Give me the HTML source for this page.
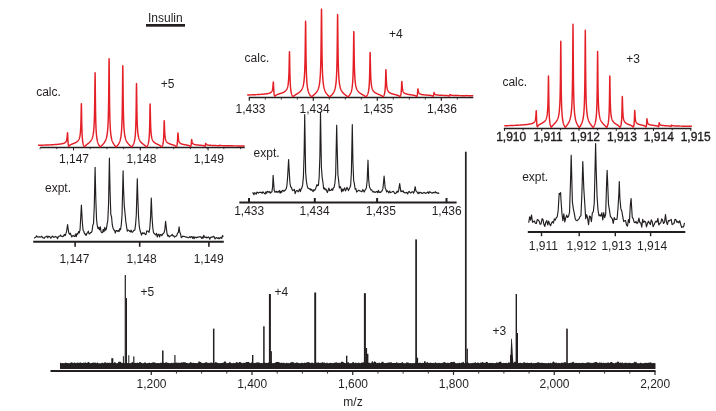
<!DOCTYPE html>
<html><head><meta charset="utf-8"><title>Insulin mass spectrum</title>
<style>
html,body{margin:0;padding:0;background:#fff;}
svg{display:block;will-change:transform;}
text{font-family:"Liberation Sans",sans-serif;font-size:12px;fill:#231f20;}
</style></head><body>
<svg width="716" height="411" viewBox="0 0 716 411">
<rect width="716" height="411" fill="#fff"/>
<text x="148" y="21.6" text-anchor="start" >Insulin</text>
<rect x="146" y="24" width="39" height="2.7" fill="#231f20"/>
<line x1="40.2" y1="147.5" x2="244.7" y2="147.5" stroke="#231f20" stroke-width="1.4" />
<line x1="73.5" y1="147.4" x2="73.5" y2="150.4" stroke="#231f20" stroke-width="1" />
<line x1="140.3" y1="147.4" x2="140.3" y2="150.4" stroke="#231f20" stroke-width="1" />
<line x1="208.1" y1="147.4" x2="208.1" y2="150.4" stroke="#231f20" stroke-width="1" />
<line x1="40.1" y1="147.4" x2="40.1" y2="149.2" stroke="#231f20" stroke-width="0.8" />
<line x1="56.8" y1="147.4" x2="56.8" y2="149.2" stroke="#231f20" stroke-width="0.8" />
<line x1="73.5" y1="147.4" x2="73.5" y2="149.2" stroke="#231f20" stroke-width="0.8" />
<line x1="90.2" y1="147.4" x2="90.2" y2="149.2" stroke="#231f20" stroke-width="0.8" />
<line x1="106.9" y1="147.4" x2="106.9" y2="149.2" stroke="#231f20" stroke-width="0.8" />
<line x1="123.6" y1="147.4" x2="123.6" y2="149.2" stroke="#231f20" stroke-width="0.8" />
<line x1="140.3" y1="147.4" x2="140.3" y2="149.2" stroke="#231f20" stroke-width="0.8" />
<line x1="157.0" y1="147.4" x2="157.0" y2="149.2" stroke="#231f20" stroke-width="0.8" />
<line x1="173.7" y1="147.4" x2="173.7" y2="149.2" stroke="#231f20" stroke-width="0.8" />
<line x1="190.4" y1="147.4" x2="190.4" y2="149.2" stroke="#231f20" stroke-width="0.8" />
<line x1="207.1" y1="147.4" x2="207.1" y2="149.2" stroke="#231f20" stroke-width="0.8" />
<line x1="223.8" y1="147.4" x2="223.8" y2="149.2" stroke="#231f20" stroke-width="0.8" />
<line x1="240.5" y1="147.4" x2="240.5" y2="149.2" stroke="#231f20" stroke-width="0.8" />
<path d="M38.10,145.32 L38.25,145.31 L38.40,145.31 L38.55,145.30 L38.70,145.30 L38.85,145.29 L39.00,145.29 L39.15,145.28 L39.30,145.28 L39.45,145.28 L39.60,145.27 L39.75,145.27 L39.90,145.26 L40.05,145.26 L40.20,145.25 L40.35,145.25 L40.50,145.24 L40.65,145.24 L40.80,145.23 L40.95,145.23 L41.10,145.22 L41.25,145.22 L41.40,145.21 L41.55,145.21 L41.70,145.20 L41.85,145.20 L42.00,145.19 L42.15,145.19 L42.30,145.18 L42.45,145.18 L42.60,145.17 L42.75,145.17 L42.90,145.16 L43.05,145.16 L43.20,145.15 L43.35,145.15 L43.50,145.14 L43.65,145.14 L43.80,145.13 L43.95,145.12 L44.10,145.12 L44.25,145.11 L44.40,145.11 L44.55,145.10 L44.70,145.10 L44.85,145.09 L45.00,145.09 L45.15,145.08 L45.30,145.07 L45.45,145.07 L45.60,145.06 L45.75,145.06 L45.90,145.05 L46.05,145.04 L46.20,145.04 L46.35,145.03 L46.50,145.02 L46.65,145.02 L46.80,145.01 L46.95,145.01 L47.10,145.00 L47.25,144.99 L47.40,144.99 L47.55,144.98 L47.70,144.97 L47.85,144.97 L48.00,144.96 L48.15,144.95 L48.30,144.95 L48.45,144.94 L48.60,144.93 L48.75,144.92 L48.90,144.92 L49.05,144.91 L49.20,144.90 L49.35,144.90 L49.50,144.89 L49.65,144.88 L49.80,144.87 L49.95,144.87 L50.10,144.86 L50.25,144.85 L50.40,144.84 L50.55,144.84 L50.70,144.83 L50.85,144.82 L51.00,144.81 L51.15,144.80 L51.30,144.79 L51.45,144.79 L51.60,144.78 L51.75,144.77 L51.90,144.76 L52.05,144.75 L52.20,144.74 L52.35,144.73 L52.50,144.73 L52.65,144.72 L52.80,144.71 L52.95,144.70 L53.10,144.69 L53.25,144.68 L53.40,144.67 L53.55,144.66 L53.70,144.65 L53.85,144.64 L54.00,144.63 L54.15,144.62 L54.30,144.61 L54.45,144.60 L54.60,144.59 L54.75,144.58 L54.90,144.57 L55.05,144.56 L55.20,144.55 L55.35,144.53 L55.50,144.52 L55.65,144.51 L55.80,144.50 L55.95,144.49 L56.10,144.48 L56.25,144.46 L56.40,144.45 L56.55,144.44 L56.70,144.43 L56.85,144.41 L57.00,144.40 L57.15,144.39 L57.30,144.37 L57.45,144.36 L57.60,144.35 L57.75,144.33 L57.90,144.32 L58.05,144.30 L58.20,144.29 L58.35,144.27 L58.50,144.26 L58.65,144.24 L58.80,144.22 L58.95,144.21 L59.10,144.19 L59.25,144.17 L59.40,144.15 L59.55,144.14 L59.70,144.12 L59.85,144.10 L60.00,144.08 L60.15,144.06 L60.30,144.04 L60.45,144.02 L60.60,144.00 L60.75,143.97 L60.90,143.95 L61.05,143.93 L61.20,143.90 L61.35,143.88 L61.50,143.85 L61.65,143.82 L61.80,143.80 L61.95,143.77 L62.10,143.74 L62.25,143.71 L62.40,143.68 L62.55,143.64 L62.70,143.61 L62.85,143.57 L63.00,143.53 L63.15,143.49 L63.30,143.45 L63.45,143.41 L63.60,143.36 L63.75,143.31 L63.90,143.26 L64.05,143.20 L64.20,143.14 L64.35,143.07 L64.50,143.00 L64.65,142.93 L64.80,142.85 L64.95,142.76 L65.10,142.66 L65.25,142.55 L65.40,142.42 L65.55,142.29 L65.70,142.13 L65.85,141.95 L66.00,141.74 L66.15,141.49 L66.30,141.19 L66.45,140.83 L66.60,140.37 L66.75,139.79 L66.90,139.01 L67.05,137.94 L67.20,136.45 L67.35,134.46 L67.50,132.69 L67.60,132.90 L67.65,133.66 L67.80,137.34 L67.95,140.64 L68.10,142.84 L68.25,144.29 L68.40,145.25 L68.55,145.87 L68.70,146.22 L68.85,146.30 L69.00,146.20 L69.15,146.03 L69.30,145.85 L69.45,145.68 L69.60,145.52 L69.75,145.38 L69.90,145.25 L70.05,145.13 L70.20,145.02 L70.35,144.92 L70.50,144.83 L70.65,144.74 L70.80,144.66 L70.95,144.58 L71.10,144.50 L71.25,144.43 L71.40,144.36 L71.55,144.29 L71.70,144.23 L71.85,144.17 L72.00,144.10 L72.15,144.04 L72.30,143.98 L72.45,143.93 L72.60,143.87 L72.75,143.81 L72.90,143.75 L73.05,143.70 L73.20,143.64 L73.35,143.58 L73.50,143.52 L73.65,143.47 L73.80,143.41 L73.95,143.35 L74.10,143.29 L74.25,143.23 L74.40,143.17 L74.55,143.10 L74.70,143.04 L74.85,142.97 L75.00,142.91 L75.15,142.84 L75.30,142.77 L75.45,142.69 L75.60,142.62 L75.75,142.54 L75.90,142.46 L76.05,142.37 L76.20,142.28 L76.35,142.19 L76.50,142.10 L76.65,142.00 L76.80,141.89 L76.95,141.78 L77.10,141.66 L77.25,141.54 L77.40,141.41 L77.55,141.27 L77.70,141.12 L77.85,140.96 L78.00,140.79 L78.15,140.61 L78.30,140.41 L78.45,140.19 L78.60,139.95 L78.75,139.69 L78.90,139.39 L79.05,139.07 L79.20,138.70 L79.35,138.29 L79.50,137.82 L79.65,137.27 L79.80,136.63 L79.95,135.87 L80.10,134.95 L80.25,133.81 L80.40,132.38 L80.55,130.52 L80.70,128.02 L80.85,124.55 L81.00,119.56 L81.15,112.55 L81.30,105.12 L81.40,103.70 L81.45,104.96 L81.60,113.73 L81.75,122.62 L81.90,128.86 L82.05,133.08 L82.20,136.03 L82.35,138.17 L82.50,139.80 L82.65,141.07 L82.80,142.09 L82.95,142.93 L83.10,143.63 L83.25,144.22 L83.40,144.73 L83.55,145.17 L83.70,145.56 L83.85,145.90 L84.00,146.19 L84.15,146.43 L84.30,146.60 L84.45,146.66 L84.60,146.60 L84.75,146.48 L84.90,146.33 L85.05,146.17 L85.20,146.01 L85.35,145.86 L85.50,145.71 L85.65,145.56 L85.80,145.42 L85.95,145.29 L86.10,145.16 L86.25,145.03 L86.40,144.90 L86.55,144.78 L86.70,144.66 L86.85,144.54 L87.00,144.42 L87.15,144.30 L87.30,144.18 L87.45,144.07 L87.60,143.95 L87.75,143.83 L87.90,143.72 L88.05,143.60 L88.20,143.48 L88.35,143.36 L88.50,143.24 L88.65,143.12 L88.80,142.99 L88.95,142.87 L89.10,142.74 L89.25,142.60 L89.40,142.47 L89.55,142.32 L89.70,142.18 L89.85,142.03 L90.00,141.87 L90.15,141.71 L90.30,141.54 L90.45,141.36 L90.60,141.17 L90.75,140.97 L90.90,140.77 L91.05,140.55 L91.20,140.31 L91.35,140.07 L91.50,139.80 L91.65,139.52 L91.80,139.21 L91.95,138.88 L92.10,138.52 L92.25,138.12 L92.40,137.69 L92.55,137.21 L92.70,136.68 L92.85,136.08 L93.00,135.40 L93.15,134.63 L93.30,133.74 L93.45,132.70 L93.60,131.47 L93.75,129.99 L93.90,128.17 L94.05,125.89 L94.20,122.95 L94.35,119.05 L94.50,113.65 L94.65,105.91 L94.80,94.71 L94.95,80.50 L95.10,72.80 L95.10,72.80 L95.25,82.75 L95.40,98.20 L95.55,109.96 L95.70,117.97 L95.85,123.52 L96.00,127.52 L96.15,130.51 L96.30,132.83 L96.45,134.67 L96.60,136.18 L96.75,137.43 L96.90,138.49 L97.05,139.39 L97.20,140.18 L97.35,140.86 L97.50,141.47 L97.65,142.02 L97.80,142.51 L97.95,142.96 L98.10,143.36 L98.25,143.73 L98.40,144.08 L98.55,144.40 L98.70,144.69 L98.85,144.97 L99.00,145.23 L99.15,145.47 L99.30,145.70 L99.45,145.92 L99.60,146.13 L99.75,146.32 L99.90,146.49 L100.05,146.64 L100.20,146.74 L100.35,146.76 L100.50,146.70 L100.65,146.59 L100.80,146.45 L100.95,146.31 L101.10,146.16 L101.25,146.01 L101.40,145.86 L101.55,145.71 L101.70,145.55 L101.85,145.40 L102.00,145.25 L102.15,145.10 L102.30,144.94 L102.45,144.79 L102.60,144.63 L102.75,144.47 L102.90,144.31 L103.05,144.15 L103.20,143.98 L103.35,143.81 L103.50,143.63 L103.65,143.45 L103.80,143.26 L103.95,143.07 L104.10,142.87 L104.25,142.66 L104.40,142.45 L104.55,142.22 L104.70,141.99 L104.85,141.74 L105.00,141.48 L105.15,141.20 L105.30,140.91 L105.45,140.59 L105.60,140.26 L105.75,139.90 L105.90,139.51 L106.05,139.09 L106.20,138.63 L106.35,138.13 L106.50,137.57 L106.65,136.96 L106.80,136.27 L106.95,135.49 L107.10,134.61 L107.25,133.60 L107.40,132.42 L107.55,131.03 L107.70,129.37 L107.85,127.35 L108.00,124.83 L108.15,121.61 L108.30,117.38 L108.45,111.59 L108.60,103.37 L108.75,91.38 L108.90,74.81 L109.05,60.04 L109.10,58.80 L109.20,64.23 L109.35,81.82 L109.50,97.22 L109.65,107.90 L109.80,115.24 L109.95,120.47 L110.10,124.34 L110.25,127.31 L110.40,129.66 L110.55,131.56 L110.70,133.12 L110.85,134.44 L111.00,135.57 L111.15,136.54 L111.30,137.38 L111.45,138.13 L111.60,138.80 L111.75,139.40 L111.90,139.94 L112.05,140.43 L112.20,140.88 L112.35,141.29 L112.50,141.67 L112.65,142.03 L112.80,142.36 L112.95,142.67 L113.10,142.97 L113.25,143.24 L113.40,143.50 L113.55,143.75 L113.70,143.99 L113.85,144.22 L114.00,144.44 L114.15,144.65 L114.30,144.85 L114.45,145.05 L114.60,145.24 L114.75,145.43 L114.90,145.61 L115.05,145.78 L115.20,145.95 L115.35,146.12 L115.50,146.28 L115.65,146.44 L115.80,146.58 L115.95,146.70 L116.10,146.78 L116.25,146.77 L116.40,146.69 L116.55,146.56 L116.70,146.42 L116.85,146.26 L117.00,146.09 L117.15,145.92 L117.30,145.74 L117.45,145.56 L117.60,145.37 L117.75,145.17 L117.90,144.97 L118.05,144.76 L118.20,144.55 L118.35,144.32 L118.50,144.08 L118.65,143.83 L118.80,143.57 L118.95,143.30 L119.10,143.00 L119.25,142.69 L119.40,142.36 L119.55,142.00 L119.70,141.61 L119.85,141.19 L120.00,140.73 L120.15,140.23 L120.30,139.67 L120.45,139.06 L120.60,138.36 L120.75,137.57 L120.90,136.68 L121.05,135.64 L121.20,134.42 L121.35,132.97 L121.50,131.22 L121.65,129.05 L121.80,126.31 L121.95,122.74 L122.10,117.92 L122.25,111.15 L122.40,101.30 L122.55,87.09 L122.70,70.84 L122.80,65.80 L122.85,66.91 L123.00,80.46 L123.15,95.70 L123.30,106.72 L123.45,114.29 L123.60,119.62 L123.75,123.52 L123.90,126.48 L124.05,128.81 L124.20,130.67 L124.35,132.20 L124.50,133.48 L124.65,134.57 L124.80,135.51 L124.95,136.32 L125.10,137.04 L125.25,137.67 L125.40,138.24 L125.55,138.76 L125.70,139.22 L125.85,139.65 L126.00,140.04 L126.15,140.40 L126.30,140.73 L126.45,141.05 L126.60,141.34 L126.75,141.61 L126.90,141.87 L127.05,142.11 L127.20,142.34 L127.35,142.56 L127.50,142.77 L127.65,142.98 L127.80,143.17 L127.95,143.36 L128.10,143.54 L128.25,143.71 L128.40,143.88 L128.55,144.05 L128.70,144.21 L128.85,144.36 L129.00,144.52 L129.15,144.67 L129.30,144.82 L129.45,144.97 L129.60,145.12 L129.75,145.26 L129.90,145.40 L130.05,145.55 L130.20,145.69 L130.35,145.84 L130.50,145.98 L130.65,146.12 L130.80,146.26 L130.95,146.40 L131.10,146.54 L131.25,146.66 L131.40,146.75 L131.55,146.78 L131.70,146.73 L131.85,146.61 L132.00,146.45 L132.15,146.28 L132.30,146.09 L132.45,145.89 L132.60,145.67 L132.75,145.45 L132.90,145.20 L133.05,144.94 L133.20,144.66 L133.35,144.36 L133.50,144.04 L133.65,143.68 L133.80,143.30 L133.95,142.87 L134.10,142.40 L134.25,141.87 L134.40,141.27 L134.55,140.59 L134.70,139.81 L134.85,138.90 L135.00,137.83 L135.15,136.54 L135.30,134.95 L135.45,132.96 L135.60,130.40 L135.75,126.98 L135.90,122.23 L136.05,115.38 L136.20,105.32 L136.35,92.11 L136.50,83.60 L136.50,83.60 L136.65,90.18 L136.80,102.34 L136.95,111.92 L137.10,118.53 L137.25,123.15 L137.40,126.50 L137.55,129.02 L137.70,130.97 L137.85,132.53 L138.00,133.80 L138.15,134.86 L138.30,135.75 L138.45,136.52 L138.60,137.19 L138.75,137.77 L138.90,138.29 L139.05,138.75 L139.20,139.17 L139.35,139.55 L139.50,139.89 L139.65,140.20 L139.80,140.49 L139.95,140.76 L140.10,141.01 L140.25,141.25 L140.40,141.47 L140.55,141.67 L140.70,141.87 L140.85,142.05 L141.00,142.23 L141.15,142.39 L141.30,142.55 L141.45,142.71 L141.60,142.85 L141.75,142.99 L141.90,143.13 L142.05,143.27 L142.20,143.39 L142.35,143.52 L142.50,143.64 L142.65,143.76 L142.80,143.88 L142.95,144.00 L143.10,144.11 L143.25,144.23 L143.40,144.34 L143.55,144.45 L143.70,144.56 L143.85,144.67 L144.00,144.78 L144.15,144.89 L144.30,145.00 L144.45,145.12 L144.60,145.23 L144.75,145.34 L144.90,145.46 L145.05,145.58 L145.20,145.70 L145.35,145.82 L145.50,145.95 L145.65,146.08 L145.80,146.21 L145.95,146.34 L146.10,146.47 L146.25,146.60 L146.40,146.70 L146.55,146.75 L146.70,146.71 L146.85,146.59 L147.00,146.41 L147.15,146.20 L147.30,145.96 L147.45,145.69 L147.60,145.39 L147.75,145.06 L147.90,144.68 L148.05,144.25 L148.20,143.77 L148.35,143.21 L148.50,142.55 L148.65,141.77 L148.80,140.82 L148.95,139.65 L149.10,138.17 L149.25,136.24 L149.40,133.64 L149.55,129.96 L149.70,124.58 L149.85,116.72 L150.00,107.39 L150.10,104.00 L150.15,104.22 L150.30,110.54 L150.45,118.20 L150.60,123.85 L150.75,127.77 L150.90,130.55 L151.05,132.59 L151.20,134.14 L151.35,135.37 L151.50,136.35 L151.65,137.16 L151.80,137.84 L151.95,138.41 L152.10,138.91 L152.25,139.34 L152.40,139.73 L152.55,140.06 L152.70,140.37 L152.85,140.64 L153.00,140.89 L153.15,141.12 L153.30,141.33 L153.45,141.52 L153.60,141.70 L153.75,141.87 L153.90,142.02 L154.05,142.17 L154.20,142.31 L154.35,142.44 L154.50,142.56 L154.65,142.68 L154.80,142.79 L154.95,142.90 L155.10,143.00 L155.25,143.10 L155.40,143.19 L155.55,143.28 L155.70,143.37 L155.85,143.46 L156.00,143.54 L156.15,143.62 L156.30,143.70 L156.45,143.78 L156.60,143.86 L156.75,143.93 L156.90,144.00 L157.05,144.08 L157.20,144.15 L157.35,144.22 L157.50,144.29 L157.65,144.36 L157.80,144.43 L157.95,144.50 L158.10,144.57 L158.25,144.64 L158.40,144.71 L158.55,144.79 L158.70,144.86 L158.85,144.93 L159.00,145.01 L159.15,145.08 L159.30,145.16 L159.45,145.24 L159.60,145.32 L159.75,145.40 L159.90,145.49 L160.05,145.58 L160.20,145.68 L160.35,145.77 L160.50,145.87 L160.65,145.98 L160.80,146.09 L160.95,146.21 L161.10,146.33 L161.25,146.46 L161.40,146.58 L161.55,146.68 L161.70,146.72 L161.85,146.66 L162.00,146.51 L162.15,146.29 L162.30,146.01 L162.45,145.67 L162.60,145.28 L162.75,144.80 L162.90,144.22 L163.05,143.50 L163.20,142.58 L163.35,141.39 L163.50,139.77 L163.65,137.48 L163.80,134.11 L163.95,129.14 L164.10,123.11 L164.20,120.70 L164.25,120.66 L164.40,124.13 L164.55,128.63 L164.70,132.01 L164.85,134.36 L165.00,136.04 L165.15,137.28 L165.30,138.22 L165.45,138.97 L165.60,139.57 L165.75,140.06 L165.90,140.48 L166.05,140.83 L166.20,141.13 L166.35,141.40 L166.50,141.63 L166.65,141.84 L166.80,142.03 L166.95,142.20 L167.10,142.35 L167.25,142.49 L167.40,142.62 L167.55,142.74 L167.70,142.86 L167.85,142.96 L168.00,143.06 L168.15,143.15 L168.30,143.23 L168.45,143.31 L168.60,143.39 L168.75,143.47 L168.90,143.54 L169.05,143.60 L169.20,143.67 L169.35,143.73 L169.50,143.79 L169.65,143.85 L169.80,143.90 L169.95,143.96 L170.10,144.01 L170.25,144.06 L170.40,144.11 L170.55,144.16 L170.70,144.21 L170.85,144.26 L171.00,144.30 L171.15,144.35 L171.30,144.39 L171.45,144.44 L171.60,144.48 L171.75,144.53 L171.90,144.57 L172.05,144.62 L172.20,144.66 L172.35,144.71 L172.50,144.75 L172.65,144.80 L172.80,144.85 L172.95,144.89 L173.10,144.94 L173.25,144.99 L173.40,145.04 L173.55,145.09 L173.70,145.14 L173.85,145.20 L174.00,145.26 L174.15,145.32 L174.30,145.38 L174.45,145.44 L174.60,145.51 L174.75,145.58 L174.90,145.66 L175.05,145.75 L175.20,145.83 L175.35,145.93 L175.50,146.03 L175.65,146.15 L175.80,146.27 L175.95,146.39 L176.10,146.51 L176.25,146.60 L176.40,146.60 L176.55,146.45 L176.70,146.16 L176.85,145.74 L177.00,145.16 L177.15,144.37 L177.30,143.26 L177.45,141.62 L177.60,139.15 L177.75,135.70 L177.90,132.90 L177.90,132.90 L178.05,133.47 L178.20,135.70 L178.35,137.62 L178.50,139.00 L178.65,139.98 L178.80,140.69 L178.95,141.24 L179.10,141.66 L179.25,142.01 L179.40,142.29 L179.55,142.52 L179.70,142.72 L179.85,142.89 L180.00,143.04 L180.15,143.18 L180.30,143.30 L180.45,143.40 L180.60,143.50 L180.75,143.58 L180.90,143.66 L181.05,143.74 L181.20,143.80 L181.35,143.87 L181.50,143.93 L181.65,143.98 L181.80,144.03 L181.95,144.08 L182.10,144.13 L182.25,144.17 L182.40,144.22 L182.55,144.26 L182.70,144.29 L182.85,144.33 L183.00,144.37 L183.15,144.40 L183.30,144.43 L183.45,144.47 L183.60,144.50 L183.75,144.53 L183.90,144.56 L184.05,144.59 L184.20,144.61 L184.35,144.64 L184.50,144.67 L184.65,144.70 L184.80,144.72 L184.95,144.75 L185.10,144.78 L185.25,144.80 L185.40,144.83 L185.55,144.85 L185.70,144.88 L185.85,144.90 L186.00,144.93 L186.15,144.95 L186.30,144.98 L186.45,145.01 L186.60,145.03 L186.75,145.06 L186.90,145.09 L187.05,145.11 L187.20,145.14 L187.35,145.17 L187.50,145.20 L187.65,145.23 L187.80,145.26 L187.95,145.30 L188.10,145.33 L188.25,145.37 L188.40,145.41 L188.55,145.45 L188.70,145.49 L188.85,145.54 L189.00,145.59 L189.15,145.65 L189.30,145.71 L189.45,145.77 L189.60,145.85 L189.75,145.93 L189.90,146.02 L190.05,146.12 L190.20,146.24 L190.35,146.35 L190.50,146.46 L190.65,146.47 L190.80,146.31 L190.95,145.89 L191.10,145.17 L191.25,144.01 L191.40,142.23 L191.55,140.17 L191.60,139.70 L191.70,139.46 L191.85,140.25 L192.00,141.22 L192.15,141.96 L192.30,142.50 L192.45,142.90 L192.60,143.19 L192.75,143.43 L192.90,143.61 L193.05,143.77 L193.20,143.89 L193.35,144.00 L193.50,144.09 L193.65,144.17 L193.80,144.25 L193.95,144.31 L194.10,144.37 L194.25,144.42 L194.40,144.46 L194.55,144.51 L194.70,144.55 L194.85,144.58 L195.00,144.62 L195.15,144.65 L195.30,144.68 L195.45,144.71 L195.60,144.73 L195.75,144.76 L195.90,144.78 L196.05,144.81 L196.20,144.83 L196.35,144.85 L196.50,144.87 L196.65,144.89 L196.80,144.91 L196.95,144.92 L197.10,144.94 L197.25,144.96 L197.40,144.98 L197.55,144.99 L197.70,145.01 L197.85,145.02 L198.00,145.04 L198.15,145.05 L198.30,145.07 L198.45,145.08 L198.60,145.09 L198.75,145.11 L198.90,145.12 L199.05,145.14 L199.20,145.15 L199.35,145.16 L199.50,145.18 L199.65,145.19 L199.80,145.20 L199.95,145.21 L200.10,145.23 L200.25,145.24 L200.40,145.25 L200.55,145.27 L200.70,145.28 L200.85,145.29 L201.00,145.31 L201.15,145.32 L201.30,145.34 L201.45,145.35 L201.60,145.36 L201.75,145.38 L201.90,145.40 L202.05,145.41 L202.20,145.43 L202.35,145.45 L202.50,145.47 L202.65,145.49 L202.80,145.51 L202.95,145.53 L203.10,145.55 L203.25,145.58 L203.40,145.61 L203.55,145.64 L203.70,145.68 L203.85,145.72 L204.00,145.76 L204.15,145.81 L204.30,145.87 L204.45,145.94 L204.60,146.02 L204.75,146.12 L204.90,146.21 L205.05,146.24 L205.20,146.05 L205.35,145.44 L205.50,144.38 L205.60,143.70 L205.65,143.49 L205.80,143.43 L205.95,143.74 L206.10,144.04 L206.25,144.27 L206.40,144.44 L206.55,144.57 L206.70,144.67 L206.85,144.76 L207.00,144.82 L207.15,144.88 L207.30,144.93 L207.45,144.97 L207.60,145.00 L207.75,145.04 L207.90,145.07 L208.05,145.09 L208.20,145.11 L208.35,145.14 L208.50,145.15 L208.65,145.17 L208.80,145.19 L208.95,145.21 L209.10,145.22 L209.25,145.23 L209.40,145.25 L209.55,145.26 L209.70,145.27 L209.85,145.28 L210.00,145.29 L210.15,145.30 L210.30,145.31 L210.45,145.32 L210.60,145.33 L210.75,145.34 L210.90,145.35 L211.05,145.36 L211.20,145.37 L211.35,145.38 L211.50,145.38 L211.65,145.39 L211.80,145.40 L211.95,145.41 L212.10,145.41 L212.25,145.42 L212.40,145.43 L212.55,145.43 L212.70,145.44 L212.85,145.45 L213.00,145.45 L213.15,145.46 L213.30,145.47 L213.45,145.47 L213.60,145.48 L213.75,145.49 L213.90,145.49 L214.05,145.50 L214.20,145.50 L214.35,145.51 L214.50,145.52 L214.65,145.52 L214.80,145.53 L214.95,145.53 L215.10,145.54 L215.25,145.55 L215.40,145.55 L215.55,145.56 L215.70,145.56 L215.85,145.57 L216.00,145.58 L216.15,145.58 L216.30,145.59 L216.45,145.60 L216.60,145.60 L216.75,145.61 L216.90,145.62 L217.05,145.63 L217.20,145.64 L217.35,145.65 L217.50,145.66 L217.65,145.67 L217.80,145.68 L217.95,145.70 L218.10,145.71 L218.25,145.73 L218.40,145.76 L218.55,145.79 L218.70,145.82 L218.85,145.85 L219.00,145.87 L219.15,145.77 L219.30,145.50 L219.30,145.50 L219.45,145.31 L219.60,145.30 L219.75,145.35 L219.90,145.40 L220.05,145.44 L220.20,145.47 L220.35,145.49 L220.50,145.51 L220.65,145.53 L220.80,145.54 L220.95,145.55 L221.10,145.56 L221.25,145.57 L221.40,145.58 L221.55,145.59 L221.70,145.60 L221.85,145.60 L222.00,145.61 L222.15,145.62 L222.30,145.62 L222.45,145.63 L222.60,145.63 L222.75,145.64 L222.90,145.64 L223.05,145.65 L223.20,145.65 L223.35,145.66 L223.50,145.66 L223.65,145.67 L223.80,145.67 L223.95,145.67 L224.10,145.68 L224.25,145.68 L224.40,145.69 L224.55,145.69 L224.70,145.69 L224.85,145.70 L225.00,145.70 L225.15,145.70 L225.30,145.71 L225.45,145.71 L225.60,145.71 L225.75,145.72 L225.90,145.72 L226.05,145.72 L226.20,145.73 L226.35,145.73 L226.50,145.73 L226.65,145.74 L226.80,145.74 L226.95,145.74 L227.10,145.74 L227.25,145.75 L227.40,145.75 L227.55,145.75 L227.70,145.76 L227.85,145.76 L228.00,145.76 L228.15,145.76 L228.30,145.77 L228.45,145.77 L228.60,145.77 L228.75,145.78 L228.90,145.78 L229.05,145.78 L229.20,145.78 L229.35,145.79 L229.50,145.79 L229.65,145.79 L229.80,145.79 L229.95,145.80 L230.10,145.80 L230.25,145.80 L230.40,145.80 L230.55,145.81 L230.70,145.81 L230.85,145.81 L231.00,145.81 L231.15,145.82 L231.30,145.82 L231.45,145.82 L231.60,145.82 L231.75,145.83 L231.90,145.83 L232.05,145.83 L232.20,145.83 L232.35,145.83 L232.50,145.84 L232.65,145.84 L232.80,145.84 L232.95,145.84 L233.00,145.84 L233.10,145.85 L233.25,145.85 L233.40,145.85 L233.55,145.85 L233.70,145.85 L233.85,145.86 L234.00,145.86 L234.15,145.86 L234.30,145.86 L234.45,145.87 L234.60,145.87 L234.75,145.87 L234.90,145.87 L235.05,145.87 L235.20,145.88 L235.35,145.88 L235.50,145.88 L235.65,145.88 L235.80,145.88 L235.95,145.89 L236.10,145.89 L236.25,145.89 L236.40,145.89 L236.55,145.89 L236.70,145.90 L236.85,145.90 L237.00,145.90 L237.15,145.90 L237.30,145.90 L237.45,145.91 L237.60,145.91 L237.75,145.91 L237.90,145.91 L238.05,145.91 L238.20,145.92 L238.35,145.92 L238.50,145.92 L238.65,145.92 L238.80,145.92 L238.95,145.92 L239.10,145.93 L239.25,145.93 L239.40,145.93 L239.55,145.93 L239.70,145.93 L239.85,145.94 L240.00,145.94 L240.15,145.94 L240.30,145.94 L240.45,145.94 L240.60,145.94 L240.75,145.95 L240.90,145.95 L241.05,145.95 L241.20,145.95 L241.35,145.95 L241.50,145.96 L241.65,145.96 L241.80,145.96 L241.95,145.96 L242.10,145.96 L242.25,145.96 L242.40,145.97 L242.55,145.97 L242.70,145.97 L242.85,145.97 L243.00,145.97 L243.15,145.97 L243.30,145.98 L243.45,145.98 L243.60,145.98 L243.75,145.98 L243.90,145.98 L244.05,145.98 L244.20,145.99 L244.35,145.99 L244.50,145.99 L244.65,145.99" fill="none" stroke="#e41f26" stroke-width="1.45" stroke-linejoin="round"/>
<text x="74.0" y="162.6" text-anchor="middle" >1,147</text>
<text x="141.4" y="162.6" text-anchor="middle" >1,148</text>
<text x="208.8" y="162.6" text-anchor="middle" >1,149</text>
<text x="36.2" y="96" text-anchor="start" >calc.</text>
<text x="160.8" y="88" text-anchor="start" >+5</text>
<path d="M34.30,238.45 L35.05,237.47 L35.80,237.23 L36.55,235.82 L37.30,236.96 L38.05,236.91 L38.80,237.10 L39.55,236.70 L40.30,237.13 L41.05,236.81 L41.80,236.21 L42.55,237.79 L43.30,237.81 L44.05,238.34 L44.80,237.20 L45.55,236.85 L46.30,236.70 L47.05,236.06 L47.80,237.79 L48.55,236.42 L49.30,236.29 L50.05,237.01 L50.80,238.17 L51.55,237.34 L52.30,236.12 L53.05,236.54 L53.80,237.39 L54.55,236.93 L55.30,236.41 L56.05,236.89 L56.80,237.26 L57.55,238.70 L58.30,236.48 L59.05,236.25 L59.80,236.12 L60.55,234.98 L61.30,236.29 L62.05,236.36 L62.80,236.75 L63.55,235.89 L64.30,234.42 L65.05,235.66 L65.80,233.94 L66.55,231.65 L67.60,224.60 L68.05,228.22 L68.80,233.00 L69.55,234.31 L70.30,233.19 L71.05,235.01 L71.80,237.01 L72.55,235.73 L73.30,235.51 L74.05,236.21 L74.80,236.60 L75.55,233.98 L76.30,236.55 L77.05,233.50 L77.80,234.12 L78.55,231.64 L79.30,232.93 L80.05,229.61 L80.80,216.04 L81.40,205.00 L82.30,221.75 L83.05,230.22 L83.80,231.24 L84.55,233.81 L85.30,233.93 L86.05,235.55 L86.80,233.46 L87.55,232.89 L88.30,231.12 L89.05,233.90 L89.80,233.71 L90.55,232.64 L91.30,232.51 L92.05,231.15 L92.80,225.30 L93.55,223.33 L94.30,205.51 L95.10,167.30 L95.80,198.49 L96.55,219.45 L97.30,225.91 L98.05,228.69 L98.80,227.23 L99.55,229.86 L100.30,226.88 L101.05,231.64 L101.80,232.76 L102.55,232.51 L103.30,229.23 L104.05,231.78 L104.80,227.30 L105.55,230.25 L106.30,229.20 L107.05,224.63 L107.80,220.49 L108.55,203.95 L109.40,158.00 L110.05,190.69 L110.80,214.33 L111.55,216.73 L112.30,224.97 L113.05,228.19 L113.80,229.88 L114.55,230.12 L115.30,233.03 L116.05,230.58 L116.80,230.69 L117.55,231.35 L118.30,230.48 L119.05,231.58 L119.80,228.65 L120.55,229.78 L121.30,224.50 L122.05,214.79 L123.10,170.80 L123.55,189.10 L124.30,206.41 L125.05,213.47 L125.80,221.41 L126.55,226.55 L127.30,231.12 L128.05,230.10 L128.80,230.30 L129.55,231.23 L130.30,231.92 L131.05,229.97 L131.80,232.16 L132.55,232.22 L133.30,231.19 L134.05,230.20 L134.80,230.16 L135.55,224.97 L136.30,214.68 L137.30,178.70 L137.80,196.64 L138.55,216.95 L139.30,226.67 L140.05,230.55 L140.80,232.73 L141.55,235.05 L142.30,232.88 L143.05,233.70 L143.80,232.79 L144.55,233.32 L145.30,234.56 L146.05,234.44 L146.80,230.81 L147.55,231.10 L148.30,231.22 L149.05,232.36 L149.80,228.04 L150.55,217.38 L151.30,198.00 L152.05,217.40 L152.80,227.72 L153.55,233.00 L154.30,233.29 L155.05,234.41 L155.80,234.92 L156.55,233.39 L157.30,237.01 L158.05,234.72 L158.80,234.09 L159.55,236.96 L160.30,234.50 L161.05,234.52 L161.80,235.72 L162.55,234.21 L163.30,233.51 L164.05,232.64 L164.80,230.02 L165.60,221.40 L166.30,227.61 L167.05,233.71 L167.80,236.08 L168.55,235.28 L169.30,236.90 L170.05,236.33 L170.80,235.67 L171.55,235.25 L172.30,234.48 L173.05,235.88 L173.80,235.93 L174.55,237.07 L175.30,236.38 L176.05,236.27 L176.80,235.46 L177.55,233.18 L178.30,232.52 L179.10,226.90 L179.80,232.25 L180.55,234.16 L181.30,237.59 L182.05,237.08 L182.80,236.19 L183.55,236.41 L184.30,236.43 L185.05,236.65 L185.80,237.06 L186.55,237.02 L187.30,237.23 L188.05,237.74 L188.80,237.43 L189.55,236.76 L190.30,237.59 L191.05,236.58 L191.80,236.61 L192.55,238.28 L193.30,236.67 L194.05,238.68 L194.80,236.93 L195.55,237.24 L196.30,237.90 L197.05,237.09 L197.80,237.37 L198.55,236.92 L199.30,236.76 L200.05,237.04 L200.80,236.70 L201.55,238.34 L202.30,237.03 L203.05,238.37 L203.80,235.22 L204.55,237.16 L205.30,237.57 L206.05,236.96 L206.80,237.96 L207.55,237.62 L208.30,236.96 L209.05,237.48 L209.80,239.20 L210.55,237.35 L211.30,237.39 L212.05,236.85 L212.80,237.27 L213.55,236.24 L214.30,237.03 L215.05,238.94 L215.80,237.94 L216.55,237.64 L217.30,237.97 L218.05,238.53 L218.80,237.60 L219.55,238.67 L220.30,237.95 L221.05,237.30 L221.80,238.42 L222.55,235.48 L223.30,236.77" fill="none" stroke="#231f20" stroke-width="1.15" stroke-linejoin="round"/>
<line x1="33.2" y1="241.8" x2="223.8" y2="241.8" stroke="#231f20" stroke-width="2" />
<line x1="75.1" y1="241.8" x2="75.1" y2="246.8" stroke="#231f20" stroke-width="1.6" />
<line x1="139.7" y1="241.8" x2="139.7" y2="246.8" stroke="#231f20" stroke-width="1.6" />
<line x1="208.9" y1="241.8" x2="208.9" y2="246.8" stroke="#231f20" stroke-width="1.6" />
<text x="74.4" y="262.6" text-anchor="middle" >1,147</text>
<text x="141.6" y="262.6" text-anchor="middle" >1,148</text>
<text x="208.7" y="262.6" text-anchor="middle" >1,149</text>
<text x="45" y="191.5" text-anchor="start" >expt.</text>
<line x1="248.8" y1="97.5" x2="473.3" y2="97.5" stroke="#231f20" stroke-width="1.4" />
<line x1="249.3" y1="97.5" x2="249.3" y2="100.8" stroke="#231f20" stroke-width="1.2" />
<line x1="265.3" y1="97.5" x2="265.3" y2="99.6" stroke="#231f20" stroke-width="0.8" />
<line x1="281.3" y1="97.5" x2="281.3" y2="99.6" stroke="#231f20" stroke-width="0.8" />
<line x1="297.3" y1="97.5" x2="297.3" y2="99.6" stroke="#231f20" stroke-width="0.8" />
<line x1="313.3" y1="97.5" x2="313.3" y2="100.8" stroke="#231f20" stroke-width="1.2" />
<line x1="329.3" y1="97.5" x2="329.3" y2="99.6" stroke="#231f20" stroke-width="0.8" />
<line x1="345.3" y1="97.5" x2="345.3" y2="99.6" stroke="#231f20" stroke-width="0.8" />
<line x1="361.3" y1="97.5" x2="361.3" y2="99.6" stroke="#231f20" stroke-width="0.8" />
<line x1="377.3" y1="97.5" x2="377.3" y2="100.8" stroke="#231f20" stroke-width="1.2" />
<line x1="393.3" y1="97.5" x2="393.3" y2="99.6" stroke="#231f20" stroke-width="0.8" />
<line x1="409.3" y1="97.5" x2="409.3" y2="99.6" stroke="#231f20" stroke-width="0.8" />
<line x1="425.3" y1="97.5" x2="425.3" y2="99.6" stroke="#231f20" stroke-width="0.8" />
<line x1="441.3" y1="97.5" x2="441.3" y2="100.8" stroke="#231f20" stroke-width="1.2" />
<line x1="457.3" y1="97.5" x2="457.3" y2="99.6" stroke="#231f20" stroke-width="0.8" />
<path d="M247.20,95.00 L247.35,94.99 L247.50,94.99 L247.65,94.98 L247.80,94.98 L247.95,94.97 L248.10,94.97 L248.25,94.96 L248.40,94.96 L248.55,94.95 L248.70,94.95 L248.85,94.94 L249.00,94.94 L249.15,94.93 L249.30,94.93 L249.45,94.92 L249.60,94.92 L249.75,94.91 L249.90,94.91 L250.05,94.90 L250.20,94.90 L250.35,94.89 L250.50,94.89 L250.65,94.88 L250.80,94.88 L250.95,94.87 L251.10,94.86 L251.25,94.86 L251.40,94.85 L251.55,94.85 L251.70,94.84 L251.85,94.84 L252.00,94.83 L252.15,94.82 L252.30,94.82 L252.45,94.81 L252.60,94.81 L252.75,94.80 L252.90,94.79 L253.05,94.79 L253.20,94.78 L253.35,94.77 L253.50,94.77 L253.65,94.76 L253.80,94.76 L253.95,94.75 L254.10,94.74 L254.25,94.74 L254.40,94.73 L254.55,94.72 L254.70,94.72 L254.85,94.71 L255.00,94.70 L255.15,94.69 L255.30,94.69 L255.45,94.68 L255.60,94.67 L255.75,94.67 L255.90,94.66 L256.05,94.65 L256.20,94.64 L256.35,94.64 L256.50,94.63 L256.65,94.62 L256.80,94.61 L256.95,94.61 L257.10,94.60 L257.25,94.59 L257.40,94.58 L257.55,94.57 L257.70,94.57 L257.85,94.56 L258.00,94.55 L258.15,94.54 L258.30,94.53 L258.45,94.52 L258.60,94.51 L258.75,94.51 L258.90,94.50 L259.05,94.49 L259.20,94.48 L259.35,94.47 L259.50,94.46 L259.65,94.45 L259.80,94.44 L259.95,94.43 L260.10,94.42 L260.25,94.41 L260.40,94.40 L260.55,94.39 L260.70,94.38 L260.85,94.37 L261.00,94.36 L261.15,94.35 L261.30,94.34 L261.45,94.33 L261.60,94.31 L261.75,94.30 L261.90,94.29 L262.05,94.28 L262.20,94.27 L262.35,94.26 L262.50,94.24 L262.65,94.23 L262.80,94.22 L262.95,94.20 L263.10,94.19 L263.25,94.18 L263.40,94.16 L263.55,94.15 L263.70,94.14 L263.85,94.12 L264.00,94.11 L264.15,94.09 L264.30,94.08 L264.45,94.06 L264.60,94.04 L264.75,94.03 L264.90,94.01 L265.05,93.99 L265.20,93.98 L265.35,93.96 L265.50,93.94 L265.65,93.92 L265.80,93.90 L265.95,93.88 L266.10,93.86 L266.25,93.84 L266.40,93.82 L266.55,93.80 L266.70,93.77 L266.85,93.75 L267.00,93.73 L267.15,93.70 L267.30,93.68 L267.45,93.65 L267.60,93.62 L267.75,93.59 L267.90,93.56 L268.05,93.53 L268.20,93.50 L268.35,93.46 L268.50,93.43 L268.65,93.39 L268.80,93.35 L268.95,93.31 L269.10,93.26 L269.25,93.22 L269.40,93.17 L269.55,93.12 L269.70,93.06 L269.85,93.00 L270.00,92.94 L270.15,92.87 L270.30,92.80 L270.45,92.72 L270.60,92.63 L270.75,92.53 L270.90,92.42 L271.05,92.31 L271.20,92.17 L271.35,92.02 L271.50,91.85 L271.65,91.66 L271.80,91.43 L271.95,91.16 L272.10,90.84 L272.25,90.44 L272.40,89.94 L272.55,89.31 L272.70,88.47 L272.85,87.33 L273.00,85.77 L273.15,83.75 L273.30,82.03 L273.40,82.20 L273.45,82.88 L273.60,86.29 L273.75,89.55 L273.90,91.84 L274.05,93.39 L274.20,94.45 L274.35,95.21 L274.50,95.74 L274.65,96.07 L274.80,96.21 L274.95,96.17 L275.10,96.05 L275.25,95.90 L275.40,95.75 L275.55,95.61 L275.70,95.48 L275.85,95.36 L276.00,95.25 L276.15,95.14 L276.30,95.05 L276.45,94.96 L276.60,94.88 L276.75,94.80 L276.90,94.72 L277.05,94.65 L277.20,94.59 L277.35,94.52 L277.50,94.46 L277.65,94.40 L277.80,94.35 L277.95,94.29 L278.10,94.24 L278.25,94.19 L278.40,94.14 L278.55,94.09 L278.70,94.04 L278.85,93.99 L279.00,93.94 L279.15,93.89 L279.30,93.85 L279.45,93.80 L279.60,93.75 L279.75,93.71 L279.90,93.66 L280.05,93.61 L280.20,93.57 L280.35,93.52 L280.50,93.47 L280.65,93.42 L280.80,93.37 L280.95,93.33 L281.10,93.28 L281.25,93.23 L281.40,93.18 L281.55,93.12 L281.70,93.07 L281.85,93.02 L282.00,92.96 L282.15,92.91 L282.30,92.85 L282.45,92.79 L282.60,92.73 L282.75,92.67 L282.90,92.60 L283.05,92.54 L283.20,92.47 L283.35,92.40 L283.50,92.33 L283.65,92.25 L283.80,92.17 L283.95,92.09 L284.10,92.00 L284.25,91.91 L284.40,91.82 L284.55,91.72 L284.70,91.62 L284.85,91.51 L285.00,91.40 L285.15,91.28 L285.30,91.15 L285.45,91.01 L285.60,90.87 L285.75,90.71 L285.90,90.55 L286.05,90.37 L286.20,90.17 L286.35,89.96 L286.50,89.73 L286.65,89.48 L286.80,89.20 L286.95,88.90 L287.10,88.56 L287.25,88.17 L287.40,87.74 L287.55,87.24 L287.70,86.67 L287.85,86.00 L288.00,85.22 L288.15,84.27 L288.30,83.11 L288.45,81.66 L288.60,79.80 L288.75,77.35 L288.90,74.00 L289.05,69.32 L289.20,62.79 L289.35,55.10 L289.50,51.70 L289.50,51.70 L289.65,57.86 L289.80,67.15 L289.95,74.45 L290.10,79.52 L290.25,83.08 L290.40,85.66 L290.55,87.60 L290.70,89.10 L290.85,90.30 L291.00,91.28 L291.15,92.09 L291.30,92.78 L291.45,93.37 L291.60,93.88 L291.75,94.32 L291.90,94.72 L292.05,95.07 L292.20,95.38 L292.35,95.66 L292.50,95.91 L292.65,96.13 L292.80,96.32 L292.95,96.46 L293.10,96.53 L293.25,96.51 L293.40,96.42 L293.55,96.30 L293.70,96.18 L293.85,96.05 L294.00,95.92 L294.15,95.80 L294.30,95.68 L294.45,95.56 L294.60,95.45 L294.75,95.34 L294.90,95.23 L295.05,95.12 L295.20,95.02 L295.35,94.92 L295.50,94.82 L295.65,94.72 L295.80,94.62 L295.95,94.52 L296.10,94.43 L296.25,94.34 L296.40,94.24 L296.55,94.15 L296.70,94.06 L296.85,93.96 L297.00,93.87 L297.15,93.78 L297.30,93.68 L297.45,93.59 L297.60,93.49 L297.75,93.40 L297.90,93.30 L298.05,93.20 L298.20,93.10 L298.35,93.00 L298.50,92.90 L298.65,92.79 L298.80,92.68 L298.95,92.57 L299.10,92.46 L299.25,92.34 L299.40,92.22 L299.55,92.10 L299.70,91.97 L299.85,91.84 L300.00,91.70 L300.15,91.56 L300.30,91.41 L300.45,91.26 L300.60,91.09 L300.75,90.92 L300.90,90.75 L301.05,90.56 L301.20,90.36 L301.35,90.15 L301.50,89.93 L301.65,89.69 L301.80,89.44 L301.95,89.17 L302.10,88.87 L302.25,88.56 L302.40,88.22 L302.55,87.85 L302.70,87.44 L302.85,86.99 L303.00,86.50 L303.15,85.95 L303.30,85.33 L303.45,84.64 L303.60,83.85 L303.75,82.94 L303.90,81.88 L304.05,80.63 L304.20,79.13 L304.35,77.31 L304.50,75.05 L304.65,72.17 L304.80,68.40 L304.95,63.30 L305.10,56.17 L305.25,46.05 L305.40,32.78 L305.55,21.96 L305.60,21.30 L305.70,25.89 L305.85,40.29 L306.00,53.40 L306.15,62.76 L306.30,69.31 L306.45,74.01 L306.60,77.52 L306.75,80.21 L306.90,82.34 L307.05,84.07 L307.20,85.49 L307.35,86.69 L307.50,87.71 L307.65,88.59 L307.80,89.36 L307.95,90.04 L308.10,90.64 L308.25,91.18 L308.40,91.67 L308.55,92.11 L308.70,92.51 L308.85,92.88 L309.00,93.23 L309.15,93.54 L309.30,93.84 L309.45,94.11 L309.60,94.37 L309.75,94.61 L309.90,94.84 L310.05,95.06 L310.20,95.27 L310.35,95.46 L310.50,95.65 L310.65,95.82 L310.80,95.99 L310.95,96.15 L311.10,96.30 L311.25,96.43 L311.40,96.54 L311.55,96.60 L311.70,96.59 L311.85,96.53 L312.00,96.43 L312.15,96.31 L312.30,96.19 L312.45,96.07 L312.60,95.94 L312.75,95.82 L312.90,95.69 L313.05,95.57 L313.20,95.44 L313.35,95.31 L313.50,95.19 L313.65,95.06 L313.80,94.93 L313.95,94.80 L314.10,94.67 L314.25,94.54 L314.40,94.40 L314.55,94.27 L314.70,94.13 L314.85,93.99 L315.00,93.85 L315.15,93.70 L315.30,93.55 L315.45,93.40 L315.60,93.24 L315.75,93.07 L315.90,92.91 L316.05,92.73 L316.20,92.55 L316.35,92.36 L316.50,92.17 L316.65,91.96 L316.80,91.75 L316.95,91.52 L317.10,91.29 L317.25,91.04 L317.40,90.77 L317.55,90.49 L317.70,90.19 L317.85,89.87 L318.00,89.53 L318.15,89.15 L318.30,88.75 L318.45,88.32 L318.60,87.84 L318.75,87.32 L318.90,86.74 L319.05,86.10 L319.20,85.38 L319.35,84.56 L319.50,83.64 L319.65,82.58 L319.80,81.34 L319.95,79.88 L320.10,78.13 L320.25,76.01 L320.40,73.37 L320.55,70.00 L320.70,65.59 L320.85,59.61 L321.00,51.23 L321.15,39.29 L321.30,23.49 L321.45,10.18 L321.50,9.10 L321.60,13.83 L321.75,29.93 L321.90,44.85 L322.05,55.58 L322.20,63.10 L322.35,68.52 L322.50,72.55 L322.65,75.66 L322.80,78.12 L322.95,80.12 L323.10,81.76 L323.25,83.15 L323.40,84.33 L323.55,85.34 L323.70,86.23 L323.85,87.01 L324.00,87.71 L324.15,88.33 L324.30,88.89 L324.45,89.40 L324.60,89.86 L324.75,90.29 L324.90,90.68 L325.05,91.04 L325.20,91.38 L325.35,91.69 L325.50,91.99 L325.65,92.27 L325.80,92.53 L325.95,92.77 L326.10,93.01 L326.25,93.23 L326.40,93.44 L326.55,93.65 L326.70,93.84 L326.85,94.03 L327.00,94.21 L327.15,94.38 L327.30,94.55 L327.45,94.72 L327.60,94.87 L327.75,95.03 L327.90,95.18 L328.05,95.32 L328.20,95.47 L328.35,95.61 L328.50,95.75 L328.65,95.88 L328.80,96.01 L328.95,96.14 L329.10,96.26 L329.25,96.38 L329.40,96.49 L329.55,96.58 L329.70,96.63 L329.85,96.62 L330.00,96.56 L330.15,96.46 L330.30,96.35 L330.45,96.23 L330.60,96.10 L330.75,95.97 L330.90,95.83 L331.05,95.69 L331.20,95.55 L331.35,95.41 L331.50,95.26 L331.65,95.11 L331.80,94.95 L331.95,94.79 L332.10,94.62 L332.25,94.44 L332.40,94.26 L332.55,94.08 L332.70,93.88 L332.85,93.68 L333.00,93.47 L333.15,93.24 L333.30,93.01 L333.45,92.76 L333.60,92.50 L333.75,92.22 L333.90,91.92 L334.05,91.60 L334.20,91.25 L334.35,90.88 L334.50,90.48 L334.65,90.04 L334.80,89.56 L334.95,89.04 L335.10,88.45 L335.25,87.80 L335.40,87.06 L335.55,86.23 L335.70,85.27 L335.85,84.16 L336.00,82.86 L336.15,81.32 L336.30,79.45 L336.45,77.14 L336.60,74.22 L336.75,70.43 L336.90,65.35 L337.05,58.29 L337.20,48.22 L337.35,34.21 L337.50,19.08 L337.60,14.60 L337.65,15.59 L337.80,28.01 L337.95,42.80 L338.10,53.98 L338.25,61.83 L338.40,67.43 L338.55,71.57 L338.70,74.72 L338.85,77.20 L339.00,79.19 L339.15,80.82 L339.30,82.19 L339.45,83.35 L339.60,84.35 L339.75,85.22 L339.90,85.98 L340.05,86.65 L340.20,87.26 L340.35,87.80 L340.50,88.29 L340.65,88.74 L340.80,89.14 L340.95,89.52 L341.10,89.87 L341.25,90.19 L341.40,90.49 L341.55,90.77 L341.70,91.03 L341.85,91.28 L342.00,91.51 L342.15,91.73 L342.30,91.94 L342.45,92.14 L342.60,92.34 L342.75,92.52 L342.90,92.69 L343.05,92.86 L343.20,93.02 L343.35,93.18 L343.50,93.33 L343.65,93.47 L343.80,93.62 L343.95,93.75 L344.10,93.89 L344.25,94.02 L344.40,94.15 L344.55,94.28 L344.70,94.40 L344.85,94.52 L345.00,94.64 L345.15,94.76 L345.30,94.88 L345.45,94.99 L345.60,95.11 L345.75,95.22 L345.90,95.33 L346.05,95.45 L346.20,95.56 L346.35,95.67 L346.50,95.78 L346.65,95.90 L346.80,96.01 L346.95,96.12 L347.10,96.23 L347.25,96.34 L347.40,96.45 L347.55,96.54 L347.70,96.61 L347.85,96.64 L348.00,96.60 L348.15,96.52 L348.30,96.40 L348.45,96.28 L348.60,96.14 L348.75,95.99 L348.90,95.83 L349.05,95.67 L349.20,95.50 L349.35,95.32 L349.50,95.13 L349.65,94.93 L349.80,94.71 L349.95,94.49 L350.10,94.25 L350.25,93.99 L350.40,93.71 L350.55,93.41 L350.70,93.09 L350.85,92.74 L351.00,92.35 L351.15,91.93 L351.30,91.46 L351.45,90.94 L351.60,90.35 L351.75,89.68 L351.90,88.92 L352.05,88.03 L352.20,86.99 L352.35,85.76 L352.50,84.27 L352.65,82.42 L352.80,80.09 L352.95,77.06 L353.10,73.00 L353.25,67.35 L353.40,59.26 L353.55,47.95 L353.70,35.54 L353.80,31.60 L353.85,32.19 L354.00,41.56 L354.15,53.05 L354.30,61.80 L354.45,67.97 L354.60,72.39 L354.75,75.65 L354.90,78.14 L355.05,80.10 L355.20,81.67 L355.35,82.97 L355.50,84.05 L355.65,84.97 L355.80,85.76 L355.95,86.45 L356.10,87.05 L356.25,87.59 L356.40,88.07 L356.55,88.50 L356.70,88.89 L356.85,89.24 L357.00,89.56 L357.15,89.86 L357.30,90.14 L357.45,90.39 L357.60,90.63 L357.75,90.86 L357.90,91.06 L358.05,91.26 L358.20,91.45 L358.35,91.62 L358.50,91.79 L358.65,91.94 L358.80,92.10 L358.95,92.24 L359.10,92.38 L359.25,92.51 L359.40,92.64 L359.55,92.76 L359.70,92.88 L359.85,92.99 L360.00,93.10 L360.15,93.21 L360.30,93.32 L360.45,93.42 L360.60,93.52 L360.75,93.62 L360.90,93.71 L361.05,93.81 L361.20,93.90 L361.35,93.99 L361.50,94.08 L361.65,94.17 L361.80,94.26 L361.95,94.34 L362.10,94.43 L362.25,94.52 L362.40,94.60 L362.55,94.69 L362.70,94.77 L362.85,94.86 L363.00,94.94 L363.15,95.03 L363.30,95.12 L363.45,95.21 L363.60,95.29 L363.75,95.38 L363.90,95.47 L364.05,95.57 L364.20,95.66 L364.35,95.75 L364.50,95.85 L364.65,95.95 L364.80,96.05 L364.95,96.15 L365.10,96.26 L365.25,96.36 L365.40,96.46 L365.55,96.55 L365.70,96.61 L365.85,96.61 L366.00,96.55 L366.15,96.45 L366.30,96.31 L366.45,96.15 L366.60,95.98 L366.75,95.78 L366.90,95.58 L367.05,95.35 L367.20,95.10 L367.35,94.83 L367.50,94.52 L367.65,94.19 L367.80,93.81 L367.95,93.39 L368.10,92.91 L368.25,92.36 L368.40,91.72 L368.55,90.97 L368.70,90.06 L368.85,88.97 L369.00,87.60 L369.15,85.86 L369.30,83.57 L369.45,80.45 L369.60,76.06 L369.75,69.75 L369.90,61.18 L370.05,53.39 L370.10,52.40 L370.20,53.95 L370.35,61.25 L370.50,68.39 L370.65,73.62 L370.80,77.33 L370.95,80.02 L371.10,82.03 L371.25,83.58 L371.40,84.82 L371.55,85.82 L371.70,86.65 L371.85,87.35 L372.00,87.94 L372.15,88.46 L372.30,88.91 L372.45,89.30 L372.60,89.66 L372.75,89.97 L372.90,90.26 L373.05,90.52 L373.20,90.75 L373.35,90.97 L373.50,91.17 L373.65,91.35 L373.80,91.53 L373.95,91.69 L374.10,91.84 L374.25,91.98 L374.40,92.11 L374.55,92.24 L374.70,92.36 L374.85,92.47 L375.00,92.58 L375.15,92.68 L375.30,92.78 L375.45,92.88 L375.60,92.97 L375.75,93.06 L375.90,93.14 L376.05,93.22 L376.20,93.30 L376.35,93.38 L376.50,93.45 L376.65,93.53 L376.80,93.60 L376.95,93.67 L377.10,93.74 L377.25,93.80 L377.40,93.87 L377.55,93.94 L377.70,94.00 L377.85,94.06 L378.00,94.13 L378.15,94.19 L378.30,94.25 L378.45,94.31 L378.60,94.37 L378.75,94.43 L378.90,94.49 L379.05,94.55 L379.20,94.61 L379.35,94.68 L379.50,94.74 L379.65,94.80 L379.80,94.86 L379.95,94.93 L380.10,94.99 L380.25,95.06 L380.40,95.13 L380.55,95.20 L380.70,95.27 L380.85,95.34 L381.00,95.41 L381.15,95.49 L381.30,95.57 L381.45,95.65 L381.60,95.74 L381.75,95.83 L381.90,95.92 L382.05,96.02 L382.20,96.12 L382.35,96.22 L382.50,96.33 L382.65,96.43 L382.80,96.52 L382.95,96.57 L383.10,96.54 L383.25,96.44 L383.40,96.28 L383.55,96.08 L383.70,95.85 L383.85,95.57 L384.00,95.25 L384.15,94.88 L384.30,94.44 L384.45,93.92 L384.60,93.29 L384.75,92.50 L384.90,91.51 L385.05,90.22 L385.20,88.49 L385.35,86.06 L385.50,82.56 L385.65,77.57 L385.80,71.87 L385.90,69.70 L385.95,69.67 L386.10,72.93 L386.25,77.39 L386.40,80.87 L386.55,83.36 L386.70,85.16 L386.85,86.49 L387.00,87.52 L387.15,88.32 L387.30,88.98 L387.45,89.51 L387.60,89.96 L387.75,90.35 L387.90,90.68 L388.05,90.97 L388.20,91.22 L388.35,91.44 L388.50,91.65 L388.65,91.83 L388.80,91.99 L388.95,92.14 L389.10,92.28 L389.25,92.41 L389.40,92.53 L389.55,92.64 L389.70,92.74 L389.85,92.84 L390.00,92.92 L390.15,93.01 L390.30,93.09 L390.45,93.17 L390.60,93.24 L390.75,93.31 L390.90,93.37 L391.05,93.44 L391.20,93.50 L391.35,93.55 L391.50,93.61 L391.65,93.66 L391.80,93.72 L391.95,93.77 L392.10,93.81 L392.25,93.86 L392.40,93.91 L392.55,93.95 L392.70,94.00 L392.85,94.04 L393.00,94.08 L393.15,94.12 L393.30,94.17 L393.45,94.21 L393.60,94.25 L393.75,94.28 L393.90,94.32 L394.05,94.36 L394.20,94.40 L394.35,94.44 L394.50,94.47 L394.65,94.51 L394.80,94.55 L394.95,94.59 L395.10,94.62 L395.25,94.66 L395.40,94.70 L395.55,94.74 L395.70,94.78 L395.85,94.82 L396.00,94.86 L396.15,94.90 L396.30,94.94 L396.45,94.98 L396.60,95.02 L396.75,95.06 L396.90,95.11 L397.05,95.16 L397.20,95.20 L397.35,95.25 L397.50,95.30 L397.65,95.36 L397.80,95.41 L397.95,95.47 L398.10,95.53 L398.25,95.60 L398.40,95.67 L398.55,95.74 L398.70,95.82 L398.85,95.90 L399.00,95.99 L399.15,96.08 L399.30,96.19 L399.45,96.29 L399.60,96.39 L399.75,96.47 L399.90,96.50 L400.05,96.43 L400.20,96.25 L400.35,96.00 L400.50,95.66 L400.65,95.23 L400.80,94.67 L400.95,93.94 L401.10,92.94 L401.25,91.55 L401.40,89.51 L401.55,86.57 L401.70,83.09 L401.80,81.60 L401.85,81.44 L402.00,82.95 L402.15,85.28 L402.30,87.15 L402.45,88.51 L402.60,89.50 L402.75,90.24 L402.90,90.80 L403.05,91.25 L403.20,91.62 L403.35,91.92 L403.50,92.17 L403.65,92.38 L403.80,92.57 L403.95,92.73 L404.10,92.87 L404.25,93.00 L404.40,93.12 L404.55,93.22 L404.70,93.31 L404.85,93.40 L405.00,93.48 L405.15,93.55 L405.30,93.62 L405.45,93.68 L405.60,93.74 L405.75,93.79 L405.90,93.84 L406.05,93.89 L406.20,93.94 L406.35,93.98 L406.50,94.02 L406.65,94.06 L406.80,94.10 L406.95,94.14 L407.10,94.17 L407.25,94.21 L407.40,94.24 L407.55,94.27 L407.70,94.30 L407.85,94.33 L408.00,94.36 L408.15,94.39 L408.30,94.41 L408.45,94.44 L408.60,94.47 L408.75,94.49 L408.90,94.52 L409.05,94.54 L409.20,94.56 L409.35,94.59 L409.50,94.61 L409.65,94.63 L409.80,94.66 L409.95,94.68 L410.10,94.70 L410.25,94.72 L410.40,94.74 L410.55,94.76 L410.70,94.79 L410.85,94.81 L411.00,94.83 L411.15,94.85 L411.30,94.87 L411.45,94.89 L411.60,94.91 L411.75,94.94 L411.90,94.96 L412.05,94.98 L412.20,95.00 L412.35,95.03 L412.50,95.05 L412.65,95.07 L412.80,95.10 L412.95,95.12 L413.10,95.15 L413.25,95.17 L413.40,95.20 L413.55,95.23 L413.70,95.26 L413.85,95.29 L414.00,95.32 L414.15,95.35 L414.30,95.39 L414.45,95.42 L414.60,95.46 L414.75,95.50 L414.90,95.55 L415.05,95.60 L415.20,95.65 L415.35,95.70 L415.50,95.77 L415.65,95.83 L415.80,95.91 L415.95,95.99 L416.10,96.08 L416.25,96.18 L416.40,96.28 L416.55,96.36 L416.70,96.39 L416.85,96.30 L417.00,96.04 L417.15,95.62 L417.30,94.98 L417.45,94.02 L417.60,92.57 L417.75,90.59 L417.90,88.90 L417.90,88.90 L418.05,88.90 L418.20,89.91 L418.35,90.90 L418.50,91.65 L418.65,92.19 L418.80,92.60 L418.95,92.91 L419.10,93.16 L419.25,93.36 L419.40,93.52 L419.55,93.66 L419.70,93.77 L419.85,93.87 L420.00,93.96 L420.15,94.04 L420.30,94.11 L420.45,94.17 L420.60,94.23 L420.75,94.28 L420.90,94.32 L421.05,94.37 L421.20,94.41 L421.35,94.44 L421.50,94.48 L421.65,94.51 L421.80,94.54 L421.95,94.57 L422.10,94.59 L422.25,94.62 L422.40,94.64 L422.55,94.67 L422.70,94.69 L422.85,94.71 L423.00,94.73 L423.15,94.75 L423.30,94.77 L423.45,94.79 L423.60,94.80 L423.75,94.82 L423.90,94.84 L424.05,94.85 L424.20,94.87 L424.35,94.88 L424.50,94.90 L424.65,94.91 L424.80,94.93 L424.95,94.94 L425.10,94.95 L425.25,94.97 L425.40,94.98 L425.55,94.99 L425.70,95.01 L425.85,95.02 L426.00,95.03 L426.15,95.04 L426.30,95.06 L426.45,95.07 L426.60,95.08 L426.75,95.09 L426.90,95.10 L427.05,95.12 L427.20,95.13 L427.35,95.14 L427.50,95.15 L427.65,95.16 L427.80,95.18 L427.95,95.19 L428.10,95.20 L428.25,95.21 L428.40,95.22 L428.55,95.24 L428.70,95.25 L428.85,95.26 L429.00,95.28 L429.15,95.29 L429.30,95.30 L429.45,95.32 L429.60,95.33 L429.75,95.35 L429.90,95.36 L430.05,95.38 L430.20,95.40 L430.35,95.42 L430.50,95.43 L430.65,95.45 L430.80,95.48 L430.95,95.50 L431.10,95.52 L431.25,95.55 L431.40,95.58 L431.55,95.61 L431.70,95.64 L431.85,95.68 L432.00,95.72 L432.15,95.76 L432.30,95.82 L432.45,95.88 L432.60,95.94 L432.75,96.02 L432.90,96.11 L433.05,96.19 L433.20,96.24 L433.35,96.19 L433.50,95.90 L433.65,95.30 L433.80,94.30 L433.95,93.10 L434.00,92.80 L434.10,92.53 L434.25,92.77 L434.40,93.20 L434.55,93.57 L434.70,93.85 L434.85,94.06 L435.00,94.22 L435.15,94.35 L435.30,94.45 L435.45,94.54 L435.60,94.61 L435.75,94.67 L435.90,94.72 L436.05,94.77 L436.20,94.81 L436.35,94.84 L436.50,94.87 L436.65,94.90 L436.80,94.93 L436.95,94.95 L437.10,94.97 L437.25,95.00 L437.40,95.01 L437.55,95.03 L437.70,95.05 L437.85,95.07 L438.00,95.08 L438.15,95.09 L438.30,95.11 L438.45,95.12 L438.60,95.13 L438.75,95.14 L438.90,95.16 L439.05,95.17 L439.20,95.18 L439.35,95.19 L439.50,95.20 L439.65,95.21 L439.80,95.22 L439.95,95.22 L440.10,95.23 L440.25,95.24 L440.40,95.25 L440.55,95.26 L440.70,95.27 L440.85,95.27 L441.00,95.28 L441.15,95.29 L441.30,95.30 L441.45,95.30 L441.60,95.31 L441.75,95.32 L441.90,95.32 L442.05,95.33 L442.20,95.34 L442.35,95.35 L442.50,95.35 L442.65,95.36 L442.80,95.37 L442.95,95.37 L443.10,95.38 L443.25,95.38 L443.40,95.39 L443.55,95.40 L443.70,95.40 L443.85,95.41 L444.00,95.42 L444.15,95.42 L444.30,95.43 L444.45,95.44 L444.60,95.44 L444.75,95.45 L444.90,95.46 L445.05,95.47 L445.20,95.47 L445.35,95.48 L445.50,95.49 L445.65,95.50 L445.80,95.50 L445.95,95.51 L446.10,95.52 L446.25,95.53 L446.40,95.54 L446.55,95.55 L446.70,95.56 L446.85,95.57 L447.00,95.58 L447.15,95.59 L447.30,95.61 L447.45,95.62 L447.60,95.64 L447.75,95.66 L447.90,95.68 L448.05,95.70 L448.20,95.73 L448.35,95.75 L448.50,95.79 L448.65,95.83 L448.80,95.88 L448.95,95.93 L449.10,95.99 L449.25,96.04 L449.40,96.01 L449.55,95.77 L449.70,95.21 L449.80,94.80 L449.85,94.65 L450.00,94.52 L450.15,94.63 L450.30,94.77 L450.45,94.89 L450.60,94.98 L450.75,95.05 L450.90,95.11 L451.05,95.15 L451.20,95.19 L451.35,95.22 L451.50,95.25 L451.65,95.27 L451.80,95.29 L451.95,95.31 L452.10,95.33 L452.25,95.34 L452.40,95.36 L452.55,95.37 L452.70,95.38 L452.85,95.39 L453.00,95.40 L453.15,95.41 L453.30,95.42 L453.45,95.43 L453.60,95.43 L453.75,95.44 L453.90,95.45 L454.05,95.45 L454.20,95.46 L454.35,95.47 L454.50,95.47 L454.65,95.48 L454.80,95.48 L454.95,95.49 L455.10,95.49 L455.25,95.50 L455.40,95.50 L455.55,95.51 L455.70,95.51 L455.85,95.52 L456.00,95.52 L456.15,95.53 L456.30,95.53 L456.45,95.54 L456.60,95.54 L456.75,95.54 L456.90,95.55 L457.05,95.55 L457.20,95.55 L457.35,95.56 L457.50,95.56 L457.65,95.57 L457.80,95.57 L457.95,95.57 L458.10,95.58 L458.25,95.58 L458.40,95.58 L458.55,95.59 L458.70,95.59 L458.85,95.59 L459.00,95.60 L459.15,95.60 L459.30,95.60 L459.45,95.61 L459.60,95.61 L459.75,95.61 L459.90,95.62 L460.05,95.62 L460.20,95.62 L460.35,95.63 L460.50,95.63 L460.65,95.63 L460.80,95.64 L460.95,95.64 L461.10,95.64 L461.25,95.65 L461.40,95.65 L461.55,95.65 L461.70,95.66 L461.85,95.66 L462.00,95.67 L462.15,95.67 L462.30,95.67 L462.45,95.68 L462.60,95.68 L462.75,95.68 L462.90,95.69 L463.05,95.69 L463.20,95.70 L463.35,95.70 L463.50,95.71 L463.65,95.71 L463.80,95.72 L463.95,95.73 L464.10,95.73 L464.25,95.74 L464.40,95.75 L464.55,95.76 L464.70,95.77 L464.85,95.79 L465.00,95.80 L465.15,95.82 L465.30,95.85 L465.45,95.87 L465.60,95.89 L465.75,95.88 L465.90,95.75 L466.00,95.60 L466.05,95.53 L466.20,95.44 L466.35,95.45 L466.50,95.48 L466.65,95.52 L466.80,95.54 L466.95,95.57 L467.10,95.58 L467.25,95.60 L467.40,95.61 L467.55,95.62 L467.70,95.63 L467.85,95.64 L468.00,95.65 L468.15,95.65 L468.30,95.66 L468.45,95.66 L468.60,95.67 L468.75,95.67 L468.90,95.68 L469.05,95.68 L469.20,95.69 L469.35,95.69 L469.50,95.69 L469.65,95.70 L469.80,95.70 L469.95,95.70 L470.10,95.71 L470.25,95.71 L470.40,95.71 L470.55,95.71 L470.70,95.72 L470.85,95.72 L471.00,95.72 L471.15,95.72 L471.30,95.73 L471.45,95.73 L471.60,95.73 L471.75,95.73 L471.90,95.74 L472.05,95.74 L472.20,95.74 L472.35,95.74 L472.50,95.75 L472.65,95.75 L472.80,95.75 L472.95,95.75 L473.10,95.75 L473.25,95.76" fill="none" stroke="#e41f26" stroke-width="1.45" stroke-linejoin="round"/>
<text x="250.5" y="113" text-anchor="middle" >1,433</text>
<text x="314.6" y="113" text-anchor="middle" >1,434</text>
<text x="378.2" y="113" text-anchor="middle" >1,435</text>
<text x="441.9" y="113" text-anchor="middle" >1,436</text>
<text x="244.6" y="61.8" text-anchor="start" >calc.</text>
<text x="389" y="38.3" text-anchor="start" >+4</text>
<path d="M252.40,193.30 L253.15,192.78 L253.90,194.74 L254.65,192.82 L255.40,192.97 L256.15,194.18 L256.90,192.13 L257.65,192.46 L258.40,193.14 L259.15,192.56 L259.90,192.13 L260.65,192.49 L261.40,192.40 L262.15,193.31 L262.90,191.75 L263.65,192.54 L264.40,193.44 L265.15,194.02 L265.90,191.73 L266.65,193.16 L267.40,191.34 L268.15,191.64 L268.90,192.34 L269.65,191.52 L270.40,193.16 L271.15,192.30 L271.90,191.82 L272.65,186.51 L273.10,175.40 L274.15,189.95 L274.90,192.28 L275.65,192.00 L276.40,191.24 L277.15,192.49 L277.90,191.55 L278.65,192.05 L279.40,190.54 L280.15,193.27 L280.90,191.13 L281.65,192.34 L282.40,190.45 L283.15,190.25 L283.90,191.57 L284.65,190.30 L285.40,190.27 L286.15,188.84 L286.90,185.80 L287.65,176.61 L288.60,159.60 L289.15,169.91 L289.90,182.65 L290.65,186.89 L291.40,187.28 L292.15,189.75 L292.90,190.60 L293.65,189.92 L294.40,189.39 L295.15,193.69 L295.90,191.33 L296.65,190.68 L297.40,190.55 L298.15,191.85 L298.90,190.59 L299.65,189.07 L300.40,191.62 L301.15,188.87 L301.90,187.82 L302.65,184.88 L303.40,176.84 L304.15,152.69 L304.70,114.50 L305.65,172.69 L306.40,181.39 L307.15,185.67 L307.90,188.20 L308.65,188.39 L309.40,189.21 L310.15,188.73 L310.90,190.23 L311.65,189.24 L312.40,190.62 L313.15,191.58 L313.90,189.66 L314.65,190.41 L315.40,189.28 L316.15,187.08 L316.90,184.59 L317.65,185.81 L318.40,185.56 L319.15,177.32 L319.90,155.51 L320.50,112.10 L321.40,167.32 L322.15,177.29 L322.90,181.98 L323.65,188.80 L324.40,187.96 L325.15,189.84 L325.90,188.92 L326.65,190.83 L327.40,192.45 L328.15,190.19 L328.90,188.10 L329.65,190.76 L330.40,190.31 L331.15,190.23 L331.90,188.78 L332.65,190.35 L333.40,187.93 L334.15,187.25 L334.90,183.25 L335.65,174.80 L336.40,138.71 L336.70,125.20 L337.15,146.53 L337.90,174.45 L338.65,180.84 L339.40,187.99 L340.15,186.52 L340.90,187.92 L341.65,191.94 L342.40,189.10 L343.15,190.97 L343.90,189.13 L344.65,187.87 L345.40,190.96 L346.15,189.54 L346.90,187.41 L347.65,188.53 L348.40,190.63 L349.15,188.96 L349.90,187.51 L350.65,185.25 L351.40,172.29 L352.30,124.60 L352.90,161.21 L353.65,180.46 L354.40,183.99 L355.15,189.22 L355.90,188.62 L356.65,192.05 L357.40,191.39 L358.15,190.55 L358.90,190.21 L359.65,190.97 L360.40,191.03 L361.15,191.42 L361.90,191.72 L362.65,189.68 L363.40,190.41 L364.15,192.07 L364.90,190.40 L365.65,189.36 L366.40,187.78 L367.15,181.04 L368.00,160.20 L368.65,179.06 L369.40,186.62 L370.15,188.33 L370.90,189.93 L371.65,189.83 L372.40,191.30 L373.15,192.10 L373.90,191.47 L374.65,192.15 L375.40,192.33 L376.15,191.60 L376.90,191.65 L377.65,192.69 L378.40,190.41 L379.15,192.47 L379.90,192.09 L380.65,192.51 L381.40,191.23 L382.15,190.74 L382.90,188.65 L383.65,181.34 L384.10,176.00 L385.15,187.72 L385.90,189.37 L386.65,192.01 L387.40,190.72 L388.15,191.75 L388.90,192.86 L389.65,191.04 L390.40,192.61 L391.15,192.28 L391.90,191.93 L392.65,191.46 L393.40,191.42 L394.15,192.53 L394.90,193.65 L395.65,193.18 L396.40,192.71 L397.15,191.12 L397.90,192.26 L398.65,190.46 L399.40,185.46 L399.70,183.60 L400.15,186.95 L400.90,191.74 L401.65,190.96 L402.40,191.71 L403.15,190.81 L403.90,192.59 L404.65,192.49 L405.40,192.85 L406.15,192.66 L406.90,192.40 L407.65,193.99 L408.40,192.15 L409.15,191.42 L409.90,192.48 L410.65,192.96 L411.40,192.48 L412.15,191.75 L412.90,191.72 L413.65,193.19 L414.40,190.87 L415.20,186.70 L415.90,190.99 L416.65,191.30 L417.40,192.66 L418.15,193.71 L418.90,192.21 L419.65,193.21 L420.40,192.26 L421.15,192.63 L421.90,193.44 L422.65,193.31 L423.40,192.66 L424.15,192.36 L424.90,192.86 L425.65,193.48 L426.40,192.76 L427.15,192.78 L427.90,191.77 L428.65,193.49 L429.40,191.91 L430.15,191.85 L430.90,192.63 L431.65,192.85 L432.40,193.08 L433.15,192.31 L433.90,192.73 L434.65,192.58 L435.40,191.73 L436.15,192.83 L436.90,192.53 L437.65,193.29 L438.40,192.90 L439.15,193.65" fill="none" stroke="#231f20" stroke-width="1.15" stroke-linejoin="round"/>
<line x1="239.3" y1="202.4" x2="456.6" y2="202.4" stroke="#231f20" stroke-width="2" />
<line x1="249" y1="202.4" x2="249" y2="198.0" stroke="#231f20" stroke-width="2" />
<line x1="314.8" y1="202.4" x2="314.8" y2="198.0" stroke="#231f20" stroke-width="2" />
<line x1="377.1" y1="202.4" x2="377.1" y2="198.0" stroke="#231f20" stroke-width="2" />
<line x1="446.5" y1="202.4" x2="446.5" y2="198.0" stroke="#231f20" stroke-width="2" />
<text x="249.2" y="215.2" text-anchor="middle" >1,433</text>
<text x="314.6" y="215.2" text-anchor="middle" >1,434</text>
<text x="380.8" y="215.2" text-anchor="middle" >1,435</text>
<text x="446.7" y="215.2" text-anchor="middle" >1,436</text>
<text x="253.6" y="157.0" text-anchor="start" >expt.</text>
<line x1="503.8" y1="128.6" x2="691.4" y2="128.6" stroke="#231f20" stroke-width="1.5" />
<line x1="504.5" y1="128.6" x2="504.5" y2="130.9" stroke="#231f20" stroke-width="1" />
<line x1="523.1" y1="128.6" x2="523.1" y2="130.3" stroke="#231f20" stroke-width="1" />
<line x1="541.8" y1="128.6" x2="541.8" y2="130.9" stroke="#231f20" stroke-width="1" />
<line x1="560.4" y1="128.6" x2="560.4" y2="130.3" stroke="#231f20" stroke-width="1" />
<line x1="579.0" y1="128.6" x2="579.0" y2="130.9" stroke="#231f20" stroke-width="1" />
<line x1="597.6" y1="128.6" x2="597.6" y2="130.3" stroke="#231f20" stroke-width="1" />
<line x1="616.3" y1="128.6" x2="616.3" y2="130.9" stroke="#231f20" stroke-width="1" />
<line x1="634.9" y1="128.6" x2="634.9" y2="130.3" stroke="#231f20" stroke-width="1" />
<line x1="653.5" y1="128.6" x2="653.5" y2="130.9" stroke="#231f20" stroke-width="1" />
<line x1="672.2" y1="128.6" x2="672.2" y2="130.3" stroke="#231f20" stroke-width="1" />
<line x1="690.8" y1="128.6" x2="690.8" y2="130.9" stroke="#231f20" stroke-width="1" />
<path d="M504.30,125.78 L504.45,125.77 L504.60,125.77 L504.75,125.76 L504.90,125.76 L505.05,125.75 L505.20,125.75 L505.35,125.74 L505.50,125.74 L505.65,125.73 L505.80,125.73 L505.95,125.72 L506.10,125.72 L506.25,125.71 L506.40,125.71 L506.55,125.70 L506.70,125.70 L506.85,125.69 L507.00,125.69 L507.15,125.68 L507.30,125.68 L507.45,125.67 L507.60,125.67 L507.75,125.66 L507.90,125.66 L508.05,125.65 L508.20,125.65 L508.35,125.64 L508.50,125.64 L508.65,125.63 L508.80,125.62 L508.95,125.62 L509.10,125.61 L509.25,125.61 L509.40,125.60 L509.55,125.60 L509.70,125.59 L509.85,125.58 L510.00,125.58 L510.15,125.57 L510.30,125.57 L510.45,125.56 L510.60,125.56 L510.75,125.55 L510.90,125.54 L511.05,125.54 L511.20,125.53 L511.35,125.53 L511.50,125.52 L511.65,125.51 L511.80,125.51 L511.95,125.50 L512.10,125.49 L512.25,125.49 L512.40,125.48 L512.55,125.48 L512.70,125.47 L512.85,125.46 L513.00,125.46 L513.15,125.45 L513.30,125.44 L513.45,125.44 L513.60,125.43 L513.75,125.42 L513.90,125.41 L514.05,125.41 L514.20,125.40 L514.35,125.39 L514.50,125.39 L514.65,125.38 L514.80,125.37 L514.95,125.37 L515.10,125.36 L515.25,125.35 L515.40,125.34 L515.55,125.34 L515.70,125.33 L515.85,125.32 L516.00,125.31 L516.15,125.31 L516.30,125.30 L516.45,125.29 L516.60,125.28 L516.75,125.27 L516.90,125.27 L517.05,125.26 L517.20,125.25 L517.35,125.24 L517.50,125.23 L517.65,125.22 L517.80,125.22 L517.95,125.21 L518.10,125.20 L518.25,125.19 L518.40,125.18 L518.55,125.17 L518.70,125.16 L518.85,125.15 L519.00,125.15 L519.15,125.14 L519.30,125.13 L519.45,125.12 L519.60,125.11 L519.75,125.10 L519.90,125.09 L520.05,125.08 L520.20,125.07 L520.35,125.06 L520.50,125.05 L520.65,125.04 L520.80,125.03 L520.95,125.02 L521.10,125.01 L521.25,125.00 L521.40,124.99 L521.55,124.98 L521.70,124.97 L521.85,124.95 L522.00,124.94 L522.15,124.93 L522.30,124.92 L522.45,124.91 L522.60,124.90 L522.75,124.89 L522.90,124.87 L523.05,124.86 L523.20,124.85 L523.35,124.84 L523.50,124.82 L523.65,124.81 L523.80,124.80 L523.95,124.79 L524.10,124.77 L524.25,124.76 L524.40,124.74 L524.55,124.73 L524.70,124.72 L524.85,124.70 L525.00,124.69 L525.15,124.67 L525.30,124.66 L525.45,124.64 L525.60,124.63 L525.75,124.61 L525.90,124.60 L526.05,124.58 L526.20,124.57 L526.35,124.55 L526.50,124.53 L526.65,124.51 L526.80,124.50 L526.95,124.48 L527.10,124.46 L527.25,124.44 L527.40,124.42 L527.55,124.41 L527.70,124.39 L527.85,124.37 L528.00,124.35 L528.15,124.32 L528.30,124.30 L528.45,124.28 L528.60,124.26 L528.75,124.24 L528.90,124.21 L529.05,124.19 L529.20,124.17 L529.35,124.14 L529.50,124.11 L529.65,124.09 L529.80,124.06 L529.95,124.03 L530.10,124.00 L530.25,123.97 L530.40,123.94 L530.55,123.91 L530.70,123.88 L530.85,123.84 L531.00,123.81 L531.15,123.77 L531.30,123.73 L531.45,123.69 L531.60,123.65 L531.75,123.61 L531.90,123.56 L532.05,123.51 L532.20,123.46 L532.35,123.41 L532.50,123.35 L532.65,123.29 L532.80,123.23 L532.95,123.16 L533.10,123.09 L533.25,123.01 L533.40,122.92 L533.55,122.83 L533.70,122.73 L533.85,122.62 L534.00,122.49 L534.15,122.36 L534.30,122.20 L534.45,122.02 L534.60,121.82 L534.75,121.58 L534.90,121.29 L535.05,120.95 L535.20,120.53 L535.35,119.99 L535.50,119.29 L535.65,118.33 L535.80,116.99 L535.95,115.03 L536.10,112.38 L536.25,110.61 L536.30,111.00 L536.40,113.56 L536.55,118.49 L536.70,121.96 L536.85,124.10 L537.00,125.45 L537.15,126.29 L537.30,126.69 L537.45,126.71 L537.60,126.52 L537.75,126.28 L537.90,126.05 L538.05,125.83 L538.20,125.64 L538.35,125.47 L538.50,125.31 L538.65,125.17 L538.80,125.04 L538.95,124.92 L539.10,124.80 L539.25,124.70 L539.40,124.60 L539.55,124.50 L539.70,124.41 L539.85,124.32 L540.00,124.23 L540.15,124.15 L540.30,124.07 L540.45,123.99 L540.60,123.91 L540.75,123.83 L540.90,123.75 L541.05,123.68 L541.20,123.60 L541.35,123.52 L541.50,123.44 L541.65,123.37 L541.80,123.29 L541.95,123.21 L542.10,123.13 L542.25,123.04 L542.40,122.96 L542.55,122.87 L542.70,122.78 L542.85,122.69 L543.00,122.60 L543.15,122.50 L543.30,122.40 L543.45,122.30 L543.60,122.19 L543.75,122.08 L543.90,121.96 L544.05,121.83 L544.20,121.70 L544.35,121.57 L544.50,121.42 L544.65,121.27 L544.80,121.10 L544.95,120.93 L545.10,120.74 L545.25,120.54 L545.40,120.32 L545.55,120.08 L545.70,119.82 L545.85,119.53 L546.00,119.21 L546.15,118.86 L546.30,118.46 L546.45,118.02 L546.60,117.50 L546.75,116.91 L546.90,116.22 L547.05,115.39 L547.20,114.39 L547.35,113.16 L547.50,111.60 L547.65,109.56 L547.80,106.79 L547.95,102.87 L548.10,97.07 L548.25,88.42 L548.40,78.26 L548.50,76.00 L548.55,77.77 L548.70,89.80 L548.85,100.89 L549.00,108.18 L549.15,112.93 L549.30,116.19 L549.45,118.54 L549.60,120.31 L549.75,121.69 L549.90,122.79 L550.05,123.70 L550.20,124.45 L550.35,125.09 L550.50,125.64 L550.65,126.11 L550.80,126.52 L550.95,126.85 L551.10,127.09 L551.25,127.19 L551.40,127.11 L551.55,126.94 L551.70,126.73 L551.85,126.52 L552.00,126.32 L552.15,126.12 L552.30,125.93 L552.45,125.75 L552.60,125.57 L552.75,125.39 L552.90,125.23 L553.05,125.06 L553.20,124.90 L553.35,124.74 L553.50,124.59 L553.65,124.43 L553.80,124.28 L553.95,124.13 L554.10,123.98 L554.25,123.83 L554.40,123.67 L554.55,123.52 L554.70,123.36 L554.85,123.21 L555.00,123.05 L555.15,122.88 L555.30,122.72 L555.45,122.54 L555.60,122.37 L555.75,122.19 L555.90,122.00 L556.05,121.80 L556.20,121.60 L556.35,121.39 L556.50,121.17 L556.65,120.94 L556.80,120.69 L556.95,120.43 L557.10,120.15 L557.25,119.86 L557.40,119.54 L557.55,119.20 L557.70,118.84 L557.85,118.44 L558.00,118.00 L558.15,117.53 L558.30,117.00 L558.45,116.41 L558.60,115.75 L558.75,115.00 L558.90,114.14 L559.05,113.15 L559.20,111.99 L559.35,110.61 L559.50,108.93 L559.65,106.86 L559.80,104.22 L559.95,100.78 L560.10,96.09 L560.25,89.43 L560.40,79.51 L560.55,64.55 L560.70,46.32 L560.80,41.20 L560.85,43.45 L561.00,62.00 L561.15,79.87 L561.30,91.75 L561.45,99.55 L561.60,104.92 L561.75,108.79 L561.90,111.71 L562.05,113.99 L562.20,115.81 L562.35,117.31 L562.50,118.56 L562.65,119.62 L562.80,120.54 L562.95,121.34 L563.10,122.04 L563.25,122.67 L563.40,123.23 L563.55,123.74 L563.70,124.21 L563.85,124.64 L564.00,125.03 L564.15,125.40 L564.30,125.74 L564.45,126.05 L564.60,126.35 L564.75,126.63 L564.90,126.88 L565.05,127.09 L565.20,127.25 L565.35,127.29 L565.50,127.20 L565.65,127.03 L565.80,126.84 L565.95,126.64 L566.10,126.43 L566.25,126.22 L566.40,126.02 L566.55,125.81 L566.70,125.60 L566.85,125.39 L567.00,125.18 L567.15,124.97 L567.30,124.76 L567.45,124.54 L567.60,124.32 L567.75,124.09 L567.90,123.86 L568.05,123.62 L568.20,123.38 L568.35,123.12 L568.50,122.86 L568.65,122.59 L568.80,122.30 L568.95,122.00 L569.10,121.68 L569.25,121.35 L569.40,121.00 L569.55,120.62 L569.70,120.21 L569.85,119.78 L570.00,119.31 L570.15,118.80 L570.30,118.23 L570.45,117.62 L570.60,116.93 L570.75,116.17 L570.90,115.30 L571.05,114.32 L571.20,113.18 L571.35,111.86 L571.50,110.29 L571.65,108.41 L571.80,106.09 L571.95,103.17 L572.10,99.40 L572.25,94.32 L572.40,87.21 L572.55,76.74 L572.70,60.79 L572.85,38.48 L573.00,24.20 L573.00,24.20 L573.15,39.47 L573.30,62.27 L573.45,78.43 L573.60,88.99 L573.75,96.15 L573.90,101.26 L574.05,105.05 L574.20,107.98 L574.35,110.31 L574.50,112.20 L574.65,113.77 L574.80,115.10 L574.95,116.24 L575.10,117.23 L575.25,118.10 L575.40,118.87 L575.55,119.56 L575.70,120.18 L575.85,120.74 L576.00,121.26 L576.15,121.74 L576.30,122.17 L576.45,122.58 L576.60,122.97 L576.75,123.32 L576.90,123.66 L577.05,123.98 L577.20,124.29 L577.35,124.58 L577.50,124.86 L577.65,125.12 L577.80,125.38 L577.95,125.63 L578.10,125.87 L578.25,126.11 L578.40,126.34 L578.55,126.56 L578.70,126.77 L578.85,126.97 L579.00,127.15 L579.15,127.29 L579.30,127.33 L579.45,127.25 L579.60,127.09 L579.75,126.90 L579.90,126.69 L580.05,126.47 L580.20,126.24 L580.35,126.01 L580.50,125.77 L580.65,125.52 L580.80,125.26 L580.95,124.99 L581.10,124.71 L581.25,124.41 L581.40,124.11 L581.55,123.78 L581.70,123.44 L581.85,123.07 L582.00,122.68 L582.15,122.26 L582.30,121.81 L582.45,121.32 L582.60,120.78 L582.75,120.19 L582.90,119.54 L583.05,118.81 L583.20,117.98 L583.35,117.05 L583.50,115.97 L583.65,114.72 L583.80,113.23 L583.95,111.45 L584.10,109.25 L584.25,106.49 L584.40,102.91 L584.55,98.11 L584.70,91.36 L584.85,81.41 L585.00,66.19 L585.15,44.72 L585.30,30.30 L585.30,30.30 L585.45,43.70 L585.60,64.67 L585.75,79.68 L585.90,89.53 L586.05,96.22 L586.20,101.00 L586.35,104.55 L586.50,107.30 L586.65,109.48 L586.80,111.26 L586.95,112.73 L587.10,113.98 L587.25,115.05 L587.40,115.98 L587.55,116.79 L587.70,117.51 L587.85,118.16 L588.00,118.74 L588.15,119.27 L588.30,119.75 L588.45,120.20 L588.60,120.61 L588.75,120.99 L588.90,121.34 L589.05,121.68 L589.20,121.99 L589.35,122.29 L589.50,122.57 L589.65,122.84 L589.80,123.09 L589.95,123.34 L590.10,123.58 L590.25,123.81 L590.40,124.03 L590.55,124.24 L590.70,124.45 L590.85,124.66 L591.00,124.86 L591.15,125.06 L591.30,125.26 L591.45,125.45 L591.60,125.64 L591.75,125.83 L591.90,126.02 L592.05,126.21 L592.20,126.40 L592.35,126.59 L592.50,126.78 L592.65,126.96 L592.80,127.13 L592.95,127.27 L593.10,127.33 L593.25,127.26 L593.40,127.10 L593.55,126.89 L593.70,126.66 L593.85,126.41 L594.00,126.13 L594.15,125.84 L594.30,125.53 L594.45,125.19 L594.60,124.83 L594.75,124.44 L594.90,124.01 L595.05,123.54 L595.20,123.01 L595.35,122.43 L595.50,121.78 L595.65,121.04 L595.80,120.18 L595.95,119.19 L596.10,118.02 L596.25,116.61 L596.40,114.87 L596.55,112.69 L596.70,109.87 L596.85,106.07 L597.00,100.74 L597.15,92.86 L597.30,80.76 L597.45,63.53 L597.60,51.40 L597.60,51.40 L597.75,61.07 L597.90,77.09 L598.05,88.69 L598.20,96.33 L598.35,101.54 L598.50,105.26 L598.65,108.03 L598.80,110.18 L598.95,111.88 L599.10,113.27 L599.25,114.43 L599.40,115.41 L599.55,116.25 L599.70,116.97 L599.85,117.61 L600.00,118.18 L600.15,118.69 L600.30,119.15 L600.45,119.56 L600.60,119.94 L600.75,120.29 L600.90,120.61 L601.05,120.91 L601.20,121.19 L601.35,121.45 L601.50,121.70 L601.65,121.93 L601.80,122.15 L601.95,122.36 L602.10,122.57 L602.25,122.76 L602.40,122.94 L602.55,123.12 L602.70,123.29 L602.85,123.46 L603.00,123.63 L603.15,123.79 L603.30,123.94 L603.45,124.10 L603.60,124.25 L603.75,124.40 L603.90,124.55 L604.05,124.69 L604.20,124.84 L604.35,124.99 L604.50,125.14 L604.65,125.28 L604.80,125.43 L604.95,125.59 L605.10,125.74 L605.25,125.90 L605.40,126.06 L605.55,126.22 L605.70,126.39 L605.85,126.56 L606.00,126.74 L606.15,126.91 L606.30,127.08 L606.45,127.23 L606.60,127.29 L606.75,127.22 L606.90,127.04 L607.05,126.79 L607.20,126.50 L607.35,126.16 L607.50,125.78 L607.65,125.36 L607.80,124.87 L607.95,124.31 L608.10,123.67 L608.25,122.91 L608.40,122.00 L608.55,120.90 L608.70,119.52 L608.85,117.76 L609.00,115.41 L609.15,112.17 L609.30,107.44 L609.45,100.22 L609.60,89.28 L609.75,77.61 L609.80,76.00 L609.90,78.57 L610.05,89.01 L610.20,97.78 L610.35,103.63 L610.50,107.58 L610.65,110.37 L610.80,112.42 L610.95,113.99 L611.10,115.23 L611.25,116.24 L611.40,117.07 L611.55,117.77 L611.70,118.37 L611.85,118.89 L612.00,119.34 L612.15,119.74 L612.30,120.10 L612.45,120.42 L612.60,120.72 L612.75,120.98 L612.90,121.23 L613.05,121.45 L613.20,121.66 L613.35,121.86 L613.50,122.04 L613.65,122.21 L613.80,122.37 L613.95,122.53 L614.10,122.67 L614.25,122.81 L614.40,122.94 L614.55,123.07 L614.70,123.19 L614.85,123.31 L615.00,123.42 L615.15,123.53 L615.30,123.64 L615.45,123.75 L615.60,123.85 L615.75,123.95 L615.90,124.05 L616.05,124.15 L616.20,124.24 L616.35,124.34 L616.50,124.44 L616.65,124.53 L616.80,124.63 L616.95,124.72 L617.10,124.82 L617.25,124.91 L617.40,125.01 L617.55,125.11 L617.70,125.21 L617.85,125.31 L618.00,125.42 L618.15,125.53 L618.30,125.64 L618.45,125.75 L618.60,125.87 L618.75,126.00 L618.90,126.13 L619.05,126.27 L619.20,126.42 L619.35,126.57 L619.50,126.73 L619.65,126.90 L619.80,127.06 L619.95,127.20 L620.10,127.25 L620.25,127.14 L620.40,126.90 L620.55,126.56 L620.70,126.15 L620.85,125.64 L621.00,125.01 L621.15,124.24 L621.30,123.25 L621.45,121.95 L621.60,120.18 L621.75,117.63 L621.90,113.77 L622.05,107.77 L622.20,99.79 L622.30,96.40 L622.35,96.41 L622.50,101.36 L622.65,107.06 L622.80,111.03 L622.95,113.70 L623.10,115.56 L623.25,116.92 L623.40,117.95 L623.55,118.76 L623.70,119.41 L623.85,119.94 L624.00,120.39 L624.15,120.77 L624.30,121.10 L624.45,121.39 L624.60,121.64 L624.75,121.87 L624.90,122.08 L625.05,122.26 L625.20,122.43 L625.35,122.58 L625.50,122.73 L625.65,122.86 L625.80,122.98 L625.95,123.10 L626.10,123.21 L626.25,123.31 L626.40,123.40 L626.55,123.50 L626.70,123.58 L626.85,123.67 L627.00,123.75 L627.15,123.82 L627.30,123.90 L627.45,123.97 L627.60,124.04 L627.75,124.11 L627.90,124.17 L628.05,124.24 L628.20,124.30 L628.35,124.36 L628.50,124.42 L628.65,124.48 L628.80,124.54 L628.95,124.60 L629.10,124.66 L629.25,124.72 L629.40,124.78 L629.55,124.84 L629.70,124.90 L629.85,124.96 L630.00,125.02 L630.15,125.08 L630.30,125.14 L630.45,125.20 L630.60,125.27 L630.75,125.34 L630.90,125.41 L631.05,125.48 L631.20,125.55 L631.35,125.63 L631.50,125.72 L631.65,125.81 L631.80,125.90 L631.95,126.00 L632.10,126.11 L632.25,126.23 L632.40,126.35 L632.55,126.49 L632.70,126.64 L632.85,126.80 L633.00,126.97 L633.15,127.10 L633.30,127.14 L633.45,126.97 L633.60,126.60 L633.75,126.04 L633.90,125.26 L634.05,124.16 L634.20,122.53 L634.35,119.99 L634.50,116.02 L634.65,111.38 L634.70,110.50 L634.80,110.70 L634.95,113.59 L635.10,116.26 L635.25,118.10 L635.40,119.36 L635.55,120.26 L635.70,120.93 L635.85,121.44 L636.00,121.85 L636.15,122.18 L636.30,122.46 L636.45,122.69 L636.60,122.89 L636.75,123.06 L636.90,123.22 L637.05,123.35 L637.20,123.48 L637.35,123.59 L637.50,123.69 L637.65,123.78 L637.80,123.86 L637.95,123.94 L638.10,124.01 L638.25,124.08 L638.40,124.15 L638.55,124.21 L638.70,124.26 L638.85,124.32 L639.00,124.37 L639.15,124.42 L639.30,124.47 L639.45,124.51 L639.60,124.56 L639.75,124.60 L639.90,124.64 L640.05,124.68 L640.20,124.72 L640.35,124.76 L640.50,124.79 L640.65,124.83 L640.80,124.87 L640.95,124.90 L641.10,124.94 L641.25,124.97 L641.40,125.00 L641.55,125.04 L641.70,125.07 L641.85,125.11 L642.00,125.14 L642.15,125.18 L642.30,125.21 L642.45,125.25 L642.60,125.28 L642.75,125.32 L642.90,125.35 L643.05,125.39 L643.20,125.43 L643.35,125.47 L643.50,125.51 L643.65,125.56 L643.80,125.61 L643.95,125.65 L644.10,125.71 L644.25,125.76 L644.40,125.82 L644.55,125.89 L644.70,125.96 L644.85,126.04 L645.00,126.13 L645.15,126.22 L645.30,126.34 L645.45,126.46 L645.60,126.61 L645.75,126.76 L645.90,126.91 L646.05,126.96 L646.20,126.74 L646.35,126.15 L646.50,125.08 L646.65,123.26 L646.80,120.58 L646.90,119.10 L646.95,118.81 L647.10,119.52 L647.25,120.79 L647.40,121.75 L647.55,122.43 L647.70,122.90 L647.85,123.26 L648.00,123.53 L648.15,123.74 L648.30,123.92 L648.45,124.06 L648.60,124.18 L648.75,124.29 L648.90,124.38 L649.05,124.46 L649.20,124.53 L649.35,124.59 L649.50,124.65 L649.65,124.70 L649.80,124.75 L649.95,124.80 L650.10,124.84 L650.25,124.88 L650.40,124.91 L650.55,124.95 L650.70,124.98 L650.85,125.01 L651.00,125.04 L651.15,125.07 L651.30,125.10 L651.45,125.12 L651.60,125.15 L651.75,125.17 L651.90,125.19 L652.05,125.22 L652.20,125.24 L652.35,125.26 L652.50,125.28 L652.65,125.30 L652.80,125.32 L652.95,125.34 L653.10,125.36 L653.25,125.38 L653.40,125.40 L653.55,125.42 L653.70,125.44 L653.85,125.46 L654.00,125.48 L654.15,125.49 L654.30,125.51 L654.45,125.53 L654.60,125.55 L654.75,125.57 L654.90,125.59 L655.05,125.61 L655.20,125.63 L655.35,125.65 L655.50,125.68 L655.65,125.70 L655.80,125.72 L655.95,125.75 L656.10,125.77 L656.25,125.80 L656.40,125.83 L656.55,125.86 L656.70,125.89 L656.85,125.93 L657.00,125.97 L657.15,126.01 L657.30,126.06 L657.45,126.12 L657.60,126.18 L657.75,126.26 L657.90,126.35 L658.05,126.45 L658.20,126.57 L658.35,126.70 L658.50,126.79 L658.65,126.65 L658.80,126.01 L658.95,124.67 L659.10,123.10 L659.10,123.10 L659.25,122.78 L659.40,123.28 L659.55,123.77 L659.70,124.13 L659.85,124.39 L660.00,124.58 L660.15,124.73 L660.30,124.84 L660.45,124.94 L660.60,125.01 L660.75,125.08 L660.90,125.14 L661.05,125.18 L661.20,125.23 L661.35,125.26 L661.50,125.30 L661.65,125.33 L661.80,125.36 L661.95,125.38 L662.10,125.41 L662.25,125.43 L662.40,125.45 L662.55,125.47 L662.70,125.49 L662.85,125.51 L663.00,125.52 L663.15,125.54 L663.30,125.56 L663.45,125.57 L663.60,125.58 L663.75,125.60 L663.90,125.61 L664.05,125.62 L664.20,125.64 L664.35,125.65 L664.50,125.66 L664.65,125.67 L664.80,125.68 L664.95,125.69 L665.10,125.70 L665.25,125.71 L665.40,125.72 L665.55,125.74 L665.70,125.75 L665.85,125.76 L666.00,125.77 L666.15,125.77 L666.30,125.78 L666.45,125.79 L666.60,125.80 L666.75,125.81 L666.90,125.82 L667.05,125.83 L667.20,125.84 L667.35,125.85 L667.50,125.86 L667.65,125.87 L667.80,125.88 L667.95,125.89 L668.10,125.91 L668.25,125.92 L668.40,125.93 L668.55,125.94 L668.70,125.95 L668.85,125.97 L669.00,125.98 L669.15,126.00 L669.30,126.01 L669.45,126.03 L669.60,126.05 L669.75,126.07 L669.90,126.10 L670.05,126.13 L670.20,126.16 L670.35,126.21 L670.50,126.26 L670.65,126.32 L670.80,126.39 L670.95,126.47 L671.10,126.46 L671.25,126.13 L671.40,125.40 L671.40,125.40 L671.55,125.06 L671.70,125.14 L671.85,125.29 L672.00,125.41 L672.15,125.50 L672.30,125.57 L672.45,125.62 L672.60,125.66 L672.75,125.70 L672.90,125.73 L673.05,125.75 L673.20,125.77 L673.35,125.79 L673.50,125.81 L673.65,125.83 L673.80,125.84 L673.95,125.85 L674.10,125.86 L674.25,125.88 L674.40,125.89 L674.55,125.90 L674.70,125.90 L674.85,125.91 L675.00,125.92 L675.15,125.93 L675.30,125.94 L675.45,125.94 L675.60,125.95 L675.75,125.96 L675.90,125.96 L676.05,125.97 L676.20,125.98 L676.35,125.98 L676.50,125.99 L676.65,126.00 L676.80,126.00 L676.95,126.01 L677.10,126.01 L677.25,126.02 L677.40,126.02 L677.55,126.03 L677.70,126.03 L677.85,126.04 L678.00,126.04 L678.15,126.05 L678.30,126.05 L678.45,126.06 L678.60,126.06 L678.75,126.06 L678.90,126.07 L679.05,126.07 L679.20,126.08 L679.35,126.08 L679.50,126.09 L679.65,126.09 L679.80,126.09 L679.95,126.10 L680.10,126.10 L680.25,126.11 L680.40,126.11 L680.55,126.11 L680.70,126.12 L680.85,126.12 L681.00,126.12 L681.15,126.13 L681.30,126.13 L681.45,126.13 L681.60,126.14 L681.75,126.14 L681.90,126.15 L682.05,126.15 L682.20,126.15 L682.35,126.16 L682.50,126.16 L682.65,126.16 L682.80,126.17 L682.95,126.17 L683.10,126.17 L683.25,126.18 L683.40,126.18 L683.55,126.18 L683.60,126.18 L683.70,126.19 L683.85,126.19 L684.00,126.19 L684.15,126.20 L684.30,126.20 L684.45,126.20 L684.60,126.20 L684.75,126.21 L684.90,126.21 L685.05,126.21 L685.20,126.22 L685.35,126.22 L685.50,126.22 L685.65,126.23 L685.80,126.23 L685.95,126.23 L686.10,126.23 L686.25,126.24 L686.40,126.24 L686.55,126.24 L686.70,126.25 L686.85,126.25 L687.00,126.25 L687.15,126.25 L687.30,126.26 L687.45,126.26 L687.60,126.26 L687.75,126.26 L687.90,126.27 L688.05,126.27 L688.20,126.27 L688.35,126.28 L688.50,126.28 L688.65,126.28 L688.80,126.28 L688.95,126.29 L689.10,126.29 L689.25,126.29 L689.40,126.29 L689.55,126.30 L689.70,126.30 L689.85,126.30 L690.00,126.30 L690.15,126.31 L690.30,126.31 L690.45,126.31 L690.60,126.31 L690.75,126.32 L690.90,126.32 L691.05,126.32 L691.20,126.32 L691.35,126.33 L691.50,126.33 L691.65,126.33 L691.80,126.33 L691.95,126.34" fill="none" stroke="#e41f26" stroke-width="1.45" stroke-linejoin="round"/>
<text x="511.2" y="141.1" text-anchor="middle" stroke="#231f20" stroke-width="0.35">1,910</text>
<text x="548.1" y="141.1" text-anchor="middle" stroke="#231f20" stroke-width="0.35">1,911</text>
<text x="585.0" y="141.1" text-anchor="middle" stroke="#231f20" stroke-width="0.35">1,912</text>
<text x="621.9" y="141.1" text-anchor="middle" stroke="#231f20" stroke-width="0.35">1,913</text>
<text x="658.8" y="141.1" text-anchor="middle" stroke="#231f20" stroke-width="0.35">1,914</text>
<text x="695.7" y="141.1" text-anchor="middle" stroke="#231f20" stroke-width="0.35">1,915</text>
<text x="502.4" y="86.2" text-anchor="start" >calc.</text>
<text x="626.2" y="63.2" text-anchor="start" >+3</text>
<path d="M528.70,222.74 L529.65,216.77 L530.60,220.19 L531.55,214.95 L532.50,222.28 L533.45,221.51 L534.40,220.96 L535.35,223.28 L536.30,223.57 L537.25,219.55 L538.20,220.04 L539.15,221.13 L540.10,224.31 L541.05,223.93 L542.00,218.88 L542.95,219.35 L543.90,224.27 L544.85,226.49 L545.80,222.19 L546.75,220.52 L547.70,224.99 L548.65,221.14 L549.60,223.90 L550.55,225.70 L551.50,223.00 L552.45,221.52 L553.40,223.10 L554.35,218.92 L555.30,220.16 L556.25,217.69 L557.20,216.90 L558.15,210.72 L559.20,193.40 L560.05,194.37 L560.60,192.60 L561.00,199.94 L561.95,213.82 L562.90,220.72 L563.85,213.80 L564.80,221.82 L565.75,217.74 L566.70,215.15 L567.65,217.50 L568.60,216.14 L569.55,212.05 L570.50,181.88 L571.20,155.20 L572.40,202.17 L573.35,208.76 L574.30,213.31 L575.25,218.83 L576.20,220.49 L577.15,220.75 L578.10,219.56 L579.05,218.88 L580.00,216.54 L580.95,215.60 L581.90,193.19 L582.80,161.50 L583.80,188.44 L584.75,203.27 L585.70,218.62 L586.65,214.69 L587.60,218.26 L588.55,224.60 L589.50,215.99 L590.45,216.62 L591.40,221.73 L592.35,212.90 L593.30,211.79 L594.25,203.31 L595.20,162.53 L595.60,143.60 L596.15,168.54 L597.10,197.03 L598.05,210.48 L599.00,215.94 L599.95,214.77 L600.90,216.09 L601.85,212.74 L602.80,220.01 L603.75,212.59 L604.70,217.70 L605.65,214.42 L606.60,183.60 L607.10,170.40 L607.55,179.70 L608.50,204.40 L609.45,210.10 L610.40,216.39 L611.35,217.58 L612.30,218.79 L613.25,223.46 L614.20,217.59 L615.15,219.47 L616.10,219.41 L617.05,219.25 L618.00,207.98 L618.95,191.72 L619.30,181.60 L619.90,198.56 L620.85,208.67 L621.80,211.15 L622.75,216.73 L623.70,221.59 L624.65,220.71 L625.60,220.52 L626.55,225.16 L627.50,226.19 L628.45,219.54 L629.40,222.61 L630.35,204.77 L631.10,198.60 L632.25,217.17 L633.20,218.69 L634.15,222.15 L635.10,222.71 L636.05,221.38 L637.00,223.61 L637.95,222.33 L638.90,218.15 L639.85,222.70 L640.80,222.88 L641.75,227.13 L642.70,219.33 L643.65,222.41 L644.60,221.20 L645.55,221.94 L646.50,226.97 L647.45,223.44 L648.40,221.18 L649.35,222.89 L650.30,224.55 L651.25,219.80 L652.20,221.77 L653.15,226.65 L654.10,224.81 L655.05,222.37 L656.00,221.21 L656.95,222.08 L657.90,218.31 L658.85,225.04 L659.80,223.40 L660.75,222.83 L661.70,218.92 L662.65,220.41 L663.60,223.52 L664.55,221.94 L665.50,214.47 L666.45,222.11 L667.40,224.58 L668.35,220.50 L669.30,220.99 L670.25,220.12 L671.20,219.38 L672.15,224.67 L673.10,223.90 L674.05,223.45 L675.00,219.38 L675.95,219.72 L676.90,222.37 L677.85,221.44 L678.80,222.88 L679.75,220.67 L680.70,224.32 L681.65,227.42 L682.60,226.74 L683.55,226.91 L684.50,222.76" fill="none" stroke="#231f20" stroke-width="1.15" stroke-linejoin="round"/>
<line x1="527.8" y1="232" x2="685.3" y2="232" stroke="#231f20" stroke-width="2" />
<line x1="541.5" y1="232" x2="541.5" y2="236.2" stroke="#231f20" stroke-width="1.4" />
<line x1="579.2" y1="232" x2="579.2" y2="236.2" stroke="#231f20" stroke-width="1.4" />
<line x1="615.3" y1="232" x2="615.3" y2="236.2" stroke="#231f20" stroke-width="1.4" />
<line x1="650.6" y1="232" x2="650.6" y2="236.2" stroke="#231f20" stroke-width="1.4" />
<text x="543.3" y="249.8" text-anchor="middle" >1,911</text>
<text x="581.5" y="249.8" text-anchor="middle" >1,912</text>
<text x="616.4" y="249.8" text-anchor="middle" >1,913</text>
<text x="652.1" y="249.8" text-anchor="middle" >1,914</text>
<text x="522.2" y="180.6" text-anchor="start" >expt.</text>
<path d="M60.00,369.00 L60.00,362.45 L60.75,363.07 L61.50,363.28 L62.25,363.10 L63.00,362.91 L63.75,363.30 L64.50,363.30 L65.25,362.42 L66.00,362.79 L66.75,363.00 L67.50,362.99 L68.25,363.21 L69.00,363.05 L69.75,363.17 L70.50,362.77 L71.25,362.16 L72.00,362.61 L72.75,362.83 L73.50,363.16 L74.25,362.54 L75.00,362.47 L75.75,363.22 L76.50,363.11 L77.25,362.29 L78.00,363.28 L78.75,362.57 L79.50,363.10 L80.25,362.16 L81.00,362.78 L81.75,363.09 L82.50,362.93 L83.25,362.76 L84.00,362.47 L84.75,363.03 L85.50,362.27 L86.25,362.97 L87.00,362.70 L87.75,362.57 L88.50,361.68 L89.25,362.39 L90.00,362.88 L90.75,363.21 L91.50,363.02 L92.25,362.92 L93.00,362.45 L93.75,362.40 L94.50,363.11 L95.25,362.18 L96.00,363.17 L96.75,363.04 L97.50,362.34 L98.25,363.18 L99.00,363.25 L99.75,363.17 L100.50,363.23 L101.25,363.15 L102.00,362.58 L102.75,363.05 L103.50,363.25 L104.25,362.30 L105.00,362.71 L105.75,361.94 L106.50,363.25 L107.25,362.45 L108.00,363.11 L108.75,362.86 L109.50,362.70 L110.25,362.77 L111.00,363.15 L111.75,362.71 L112.50,362.55 L113.25,363.16 L114.00,362.79 L114.75,362.12 L115.50,362.55 L116.25,363.19 L117.00,363.13 L117.75,362.93 L118.50,361.80 L119.25,361.80 L120.00,361.80 L120.75,361.80 L121.50,363.09 L122.25,362.84 L123.00,363.20 L123.75,363.00 L124.50,363.15 L125.25,362.65 L126.00,362.54 L126.75,362.97 L127.50,363.03 L128.25,362.96 L129.00,363.29 L129.75,363.26 L130.50,362.96 L131.25,363.27 L132.00,361.68 L132.75,362.37 L133.50,363.13 L134.25,363.06 L135.00,362.87 L135.75,363.11 L136.50,363.10 L137.25,362.58 L138.00,363.06 L138.75,363.02 L139.50,362.10 L140.25,362.10 L141.00,362.44 L141.75,363.07 L142.50,363.16 L143.25,363.15 L144.00,362.77 L144.75,362.53 L145.50,362.19 L146.25,363.21 L147.00,363.29 L147.75,363.09 L148.50,362.98 L149.25,362.43 L150.00,363.10 L150.75,362.88 L151.50,362.98 L152.25,362.55 L153.00,362.58 L153.75,362.23 L154.50,362.37 L155.25,363.12 L156.00,362.82 L156.75,363.16 L157.50,362.99 L158.25,363.12 L159.00,363.04 L159.75,363.20 L160.50,362.76 L161.25,362.38 L162.00,363.26 L162.75,362.63 L163.50,362.32 L164.25,363.11 L165.00,362.94 L165.75,362.20 L166.50,362.18 L167.25,362.74 L168.00,362.68 L168.75,363.04 L169.50,363.16 L170.25,362.89 L171.00,363.16 L171.75,362.53 L172.50,363.29 L173.25,362.40 L174.00,363.20 L174.75,362.95 L175.50,362.75 L176.25,362.44 L177.00,362.52 L177.75,362.92 L178.50,362.70 L179.25,362.81 L180.00,362.84 L180.75,363.09 L181.50,362.37 L182.25,362.55 L183.00,362.41 L183.75,362.09 L184.50,362.30 L185.25,362.36 L186.00,362.76 L186.75,362.89 L187.50,362.89 L188.25,363.20 L189.00,363.25 L189.75,362.82 L190.50,361.97 L191.25,362.38 L192.00,362.82 L192.75,363.02 L193.50,362.64 L194.25,362.97 L195.00,363.06 L195.75,363.11 L196.50,363.15 L197.25,362.69 L198.00,363.24 L198.75,361.35 L199.50,361.59 L200.25,361.91 L201.00,362.15 L201.75,362.73 L202.50,363.16 L203.25,362.93 L204.00,362.76 L204.75,362.90 L205.50,362.27 L206.25,362.27 L207.00,362.34 L207.75,362.98 L208.50,362.83 L209.25,363.23 L210.00,362.46 L210.75,362.79 L211.50,362.58 L212.25,362.63 L213.00,363.12 L213.75,362.91 L214.50,363.15 L215.25,362.08 L216.00,362.26 L216.75,362.40 L217.50,362.73 L218.25,363.14 L219.00,363.00 L219.75,363.15 L220.50,363.06 L221.25,363.01 L222.00,363.00 L222.75,362.71 L223.50,362.63 L224.25,361.40 L225.00,361.40 L225.75,361.40 L226.50,363.19 L227.25,363.19 L228.00,362.78 L228.75,363.29 L229.50,361.99 L230.25,361.96 L231.00,363.28 L231.75,362.94 L232.50,363.24 L233.25,363.04 L234.00,362.81 L234.75,363.25 L235.50,363.10 L236.25,362.11 L237.00,362.13 L237.75,362.52 L238.50,363.04 L239.25,361.90 L240.00,361.90 L240.75,362.35 L241.50,362.66 L242.25,363.29 L243.00,362.93 L243.75,362.71 L244.50,362.66 L245.25,363.01 L246.00,362.00 L246.75,362.00 L247.50,362.00 L248.25,362.00 L249.00,362.00 L249.75,363.08 L250.50,363.27 L251.25,362.21 L252.00,362.46 L252.75,362.80 L253.50,363.29 L254.25,362.99 L255.00,362.68 L255.75,362.89 L256.50,362.42 L257.25,362.56 L258.00,362.02 L258.75,362.72 L259.50,362.49 L260.25,363.15 L261.00,363.05 L261.75,362.98 L262.50,363.29 L263.25,362.60 L264.00,363.05 L264.75,362.27 L265.50,363.00 L266.25,362.83 L267.00,363.02 L267.75,363.09 L268.50,362.15 L269.25,362.85 L270.00,363.01 L270.75,362.24 L271.50,362.42 L272.25,363.19 L273.00,362.92 L273.75,363.26 L274.50,363.06 L275.25,362.75 L276.00,361.90 L276.75,361.90 L277.50,361.90 L278.25,361.90 L279.00,361.90 L279.75,362.82 L280.50,363.09 L281.25,362.79 L282.00,362.38 L282.75,363.30 L283.50,362.46 L284.25,363.00 L285.00,363.14 L285.75,363.21 L286.50,362.51 L287.25,363.17 L288.00,362.83 L288.75,363.23 L289.50,363.26 L290.25,362.60 L291.00,362.68 L291.75,361.82 L292.50,362.24 L293.25,361.97 L294.00,362.63 L294.75,363.15 L295.50,362.87 L296.25,362.99 L297.00,361.87 L297.75,362.99 L298.50,362.92 L299.25,363.15 L300.00,362.98 L300.75,363.19 L301.50,362.85 L302.25,362.72 L303.00,363.00 L303.75,363.27 L304.50,362.48 L305.25,362.71 L306.00,362.91 L306.75,362.19 L307.50,362.18 L308.25,362.19 L309.00,361.97 L309.75,362.63 L310.50,363.14 L311.25,362.58 L312.00,363.10 L312.75,362.58 L313.50,363.25 L314.25,363.23 L315.00,362.41 L315.75,362.77 L316.50,362.59 L317.25,362.98 L318.00,362.16 L318.75,362.43 L319.50,363.09 L320.25,362.91 L321.00,362.47 L321.75,362.93 L322.50,361.98 L323.25,362.31 L324.00,363.20 L324.75,362.15 L325.50,363.26 L326.25,363.26 L327.00,362.15 L327.75,363.26 L328.50,363.20 L329.25,362.91 L330.00,362.99 L330.75,362.80 L331.50,363.06 L332.25,363.19 L333.00,362.97 L333.75,362.91 L334.50,362.81 L335.25,362.59 L336.00,362.57 L336.75,362.19 L337.50,363.01 L338.25,362.50 L339.00,363.24 L339.75,362.41 L340.50,363.29 L341.25,361.77 L342.00,361.63 L342.75,361.78 L343.50,362.35 L344.25,363.03 L345.00,362.84 L345.75,363.28 L346.50,363.15 L347.25,362.83 L348.00,361.76 L348.75,362.54 L349.50,363.27 L350.25,363.21 L351.00,363.10 L351.75,363.24 L352.50,362.19 L353.25,361.87 L354.00,362.86 L354.75,363.16 L355.50,362.50 L356.25,362.81 L357.00,363.28 L357.75,363.06 L358.50,362.53 L359.25,362.76 L360.00,363.27 L360.75,362.91 L361.50,362.58 L362.25,362.53 L363.00,362.67 L363.75,361.93 L364.50,362.63 L365.25,362.95 L366.00,362.96 L366.75,363.09 L367.50,362.80 L368.25,362.64 L369.00,362.88 L369.75,362.53 L370.50,363.23 L371.25,362.88 L372.00,361.30 L372.75,361.30 L373.50,363.06 L374.25,361.05 L375.00,362.10 L375.75,361.74 L376.50,363.15 L377.25,362.93 L378.00,362.74 L378.75,363.12 L379.50,362.57 L380.25,363.29 L381.00,362.96 L381.75,362.03 L382.50,361.86 L383.25,361.76 L384.00,363.25 L384.75,363.04 L385.50,363.06 L386.25,362.90 L387.00,363.02 L387.75,362.44 L388.50,362.45 L389.25,362.41 L390.00,362.40 L390.75,362.22 L391.50,362.21 L392.25,362.88 L393.00,363.03 L393.75,363.12 L394.50,362.91 L395.25,363.08 L396.00,362.77 L396.75,361.90 L397.50,363.00 L398.25,362.81 L399.00,363.25 L399.75,362.94 L400.50,362.98 L401.25,362.96 L402.00,362.35 L402.75,361.89 L403.50,363.14 L404.25,363.14 L405.00,363.30 L405.75,363.13 L406.50,362.21 L407.25,362.41 L408.00,362.52 L408.75,362.76 L409.50,363.25 L410.25,362.88 L411.00,363.25 L411.75,363.18 L412.50,363.03 L413.25,363.24 L414.00,362.99 L414.75,363.20 L415.50,362.19 L416.25,362.37 L417.00,362.71 L417.75,362.71 L418.50,363.09 L419.25,362.80 L420.00,362.76 L420.75,362.85 L421.50,363.18 L422.25,362.80 L423.00,363.08 L423.75,362.98 L424.50,361.10 L425.25,361.10 L426.00,363.14 L426.75,362.25 L427.50,362.02 L428.25,362.92 L429.00,362.79 L429.75,363.05 L430.50,362.59 L431.25,362.94 L432.00,362.73 L432.75,363.22 L433.50,362.66 L434.25,363.17 L435.00,362.54 L435.75,362.36 L436.50,363.06 L437.25,363.14 L438.00,362.87 L438.75,363.05 L439.50,362.65 L440.25,363.15 L441.00,362.64 L441.75,363.21 L442.50,362.86 L443.25,362.41 L444.00,362.17 L444.75,361.89 L445.50,362.50 L446.25,363.18 L447.00,362.78 L447.75,362.65 L448.50,362.77 L449.25,363.13 L450.00,362.66 L450.75,362.10 L451.50,362.10 L452.25,362.10 L453.00,362.35 L453.75,361.78 L454.50,361.84 L455.25,363.06 L456.00,363.17 L456.75,363.23 L457.50,363.04 L458.25,363.17 L459.00,362.83 L459.75,362.67 L460.50,363.21 L461.25,362.71 L462.00,362.62 L462.75,362.31 L463.50,361.82 L464.25,363.14 L465.00,363.05 L465.75,363.23 L466.50,362.83 L467.25,362.58 L468.00,362.37 L468.75,363.13 L469.50,363.21 L470.25,363.22 L471.00,363.08 L471.75,363.21 L472.50,362.90 L473.25,362.85 L474.00,363.27 L474.75,362.34 L475.50,362.19 L476.25,362.99 L477.00,363.02 L477.75,362.33 L478.50,362.74 L479.25,363.15 L480.00,362.76 L480.75,362.49 L481.50,362.73 L482.25,362.12 L483.00,362.04 L483.75,363.06 L484.50,362.85 L485.25,362.97 L486.00,361.78 L486.75,361.94 L487.50,362.08 L488.25,362.93 L489.00,363.26 L489.75,362.65 L490.50,362.93 L491.25,363.03 L492.00,362.97 L492.75,362.66 L493.50,363.23 L494.25,362.94 L495.00,363.24 L495.75,363.05 L496.50,362.35 L497.25,362.85 L498.00,362.67 L498.75,362.13 L499.50,362.01 L500.25,361.70 L501.00,361.46 L501.75,363.01 L502.50,363.29 L503.25,362.76 L504.00,363.11 L504.75,362.92 L505.50,362.94 L506.25,362.81 L507.00,363.02 L507.75,363.13 L508.50,362.35 L509.25,362.46 L510.00,362.59 L510.75,362.73 L511.50,362.37 L512.25,362.41 L513.00,363.07 L513.75,362.71 L514.50,361.75 L515.25,361.60 L516.00,362.17 L516.75,361.48 L517.50,363.19 L518.25,362.74 L519.00,363.19 L519.75,362.82 L520.50,362.83 L521.25,362.99 L522.00,363.07 L522.75,363.23 L523.50,362.13 L524.25,362.36 L525.00,362.40 L525.75,362.94 L526.50,362.90 L527.25,362.61 L528.00,363.02 L528.75,362.96 L529.50,362.92 L530.25,363.11 L531.00,362.64 L531.75,362.58 L532.50,363.18 L533.25,363.26 L534.00,362.70 L534.75,363.23 L535.50,363.00 L536.25,362.78 L537.00,363.02 L537.75,362.02 L538.50,362.61 L539.25,362.20 L540.00,363.19 L540.75,362.86 L541.50,362.79 L542.25,362.86 L543.00,363.07 L543.75,363.01 L544.50,363.12 L545.25,363.29 L546.00,362.99 L546.75,363.22 L547.50,363.29 L548.25,362.65 L549.00,363.01 L549.75,363.21 L550.50,362.49 L551.25,363.25 L552.00,362.95 L552.75,361.97 L553.50,361.29 L554.25,362.18 L555.00,362.73 L555.75,362.77 L556.50,362.49 L557.25,363.12 L558.00,363.17 L558.75,362.66 L559.50,363.12 L560.25,363.24 L561.00,362.95 L561.75,362.55 L562.50,362.75 L563.25,363.19 L564.00,362.05 L564.75,362.17 L565.50,362.13 L566.25,362.42 L567.00,363.28 L567.75,362.78 L568.50,363.28 L569.25,363.07 L570.00,362.96 L570.75,362.79 L571.50,362.80 L572.25,362.16 L573.00,362.02 L573.75,361.80 L574.50,363.28 L575.25,362.99 L576.00,362.74 L576.75,362.96 L577.50,362.98 L578.25,363.08 L579.00,362.88 L579.75,362.71 L580.50,363.24 L581.25,362.84 L582.00,363.17 L582.75,362.52 L583.50,363.11 L584.25,363.05 L585.00,363.19 L585.75,363.04 L586.50,362.73 L587.25,362.45 L588.00,362.37 L588.75,362.59 L589.50,362.72 L590.25,362.60 L591.00,363.21 L591.75,362.65 L592.50,363.00 L593.25,362.87 L594.00,362.69 L594.75,362.22 L595.50,362.09 L596.25,361.96 L597.00,362.17 L597.75,362.64 L598.50,363.19 L599.25,362.55 L600.00,362.37 L600.75,363.05 L601.50,362.34 L602.25,363.25 L603.00,362.86 L603.75,362.68 L604.50,363.10 L605.25,362.64 L606.00,363.26 L606.75,362.68 L607.50,362.64 L608.25,362.29 L609.00,362.91 L609.75,362.93 L610.50,361.89 L611.25,361.98 L612.00,362.08 L612.75,363.04 L613.50,362.91 L614.25,363.23 L615.00,363.17 L615.75,362.48 L616.50,362.85 L617.25,361.93 L618.00,361.23 L618.75,362.05 L619.50,363.09 L620.25,362.25 L621.00,363.11 L621.75,362.64 L622.50,362.24 L623.25,363.22 L624.00,363.17 L624.75,362.76 L625.50,362.80 L626.25,362.56 L627.00,363.16 L627.75,363.03 L628.50,363.05 L629.25,362.52 L630.00,363.01 L630.75,362.99 L631.50,363.17 L632.25,363.18 L633.00,362.86 L633.75,362.97 L634.50,361.43 L635.25,362.20 L636.00,361.77 L636.75,362.65 L637.50,363.20 L638.25,363.16 L639.00,363.25 L639.75,363.29 L640.50,362.56 L641.25,362.91 L642.00,363.18 L642.75,363.26 L643.50,363.18 L644.25,362.84 L645.00,363.27 L645.75,362.87 L646.50,362.72 L647.25,363.08 L648.00,362.94 L648.75,362.52 L649.50,362.71 L650.25,362.19 L651.00,362.45 L651.75,363.08 L652.50,363.28 L653.25,362.79 L654.00,363.15 L654.75,363.10 L655.50,363.14 L655.50,369.00Z" fill="#231f20"/>
<rect x="111.30" y="358.2" width="2" height="6.80" fill="#231f20"/>
<rect x="122.90" y="356.2" width="1" height="8.80" fill="#231f20"/>
<rect x="124.70" y="275" width="1.2" height="90.00" fill="#231f20"/>
<rect x="125.80" y="298" width="1.2" height="67.00" fill="#231f20"/>
<rect x="128.30" y="355.2" width="1" height="9.80" fill="#231f20"/>
<rect x="133.20" y="356.4" width="1.2" height="8.60" fill="#231f20"/>
<rect x="162.05" y="350.5" width="1.5" height="14.50" fill="#231f20"/>
<rect x="174.30" y="355.1" width="1.2" height="9.90" fill="#231f20"/>
<rect x="212.95" y="328.6" width="1.5" height="36.40" fill="#231f20"/>
<rect x="252.00" y="355" width="1.4" height="10.00" fill="#231f20"/>
<rect x="263.15" y="326.3" width="1.5" height="38.70" fill="#231f20"/>
<rect x="268.90" y="294" width="2" height="71.00" fill="#231f20"/>
<rect x="270.50" y="351.2" width="1.4" height="13.80" fill="#231f20"/>
<rect x="314.25" y="292.5" width="1.9" height="72.50" fill="#231f20"/>
<rect x="346.00" y="355.7" width="1.4" height="9.30" fill="#231f20"/>
<rect x="363.90" y="293.2" width="2" height="71.80" fill="#231f20"/>
<rect x="365.70" y="348" width="1.4" height="17.00" fill="#231f20"/>
<rect x="367.00" y="353.8" width="1.4" height="11.20" fill="#231f20"/>
<rect x="415.25" y="239.4" width="1.7" height="125.60" fill="#231f20"/>
<rect x="416.70" y="357.7" width="1.4" height="7.30" fill="#231f20"/>
<rect x="464.95" y="151.7" width="1.7" height="213.30" fill="#231f20"/>
<rect x="466.70" y="348.6" width="1.2" height="16.40" fill="#231f20"/>
<rect x="510.00" y="355" width="1.2" height="10.00" fill="#231f20"/>
<rect x="515.60" y="294" width="1.4" height="71.00" fill="#231f20"/>
<rect x="516.80" y="333" width="1.2" height="32.00" fill="#231f20"/>
<rect x="566.20" y="328.6" width="1.6" height="36.40" fill="#231f20"/>
<path d="M511.2,338.8 L511.9,338.8 L513.4,365 L510.2,365 Z" fill="#231f20"/>
<line x1="50.5" y1="371.0" x2="655.5" y2="371.0" stroke="#231f20" stroke-width="2" />
<line x1="151.25" y1="371" x2="151.25" y2="374.9" stroke="#231f20" stroke-width="1.2" />
<line x1="176.44" y1="371" x2="176.44" y2="373.6" stroke="#231f20" stroke-width="0.9" />
<line x1="201.62" y1="371" x2="201.62" y2="373.6" stroke="#231f20" stroke-width="0.9" />
<line x1="226.81" y1="371" x2="226.81" y2="373.6" stroke="#231f20" stroke-width="0.9" />
<line x1="252.0" y1="371" x2="252.0" y2="374.9" stroke="#231f20" stroke-width="1.2" />
<line x1="277.19" y1="371" x2="277.19" y2="373.6" stroke="#231f20" stroke-width="0.9" />
<line x1="302.38" y1="371" x2="302.38" y2="373.6" stroke="#231f20" stroke-width="0.9" />
<line x1="327.56" y1="371" x2="327.56" y2="373.6" stroke="#231f20" stroke-width="0.9" />
<line x1="352.75" y1="371" x2="352.75" y2="374.9" stroke="#231f20" stroke-width="1.2" />
<line x1="377.94" y1="371" x2="377.94" y2="373.6" stroke="#231f20" stroke-width="0.9" />
<line x1="403.12" y1="371" x2="403.12" y2="373.6" stroke="#231f20" stroke-width="0.9" />
<line x1="428.31" y1="371" x2="428.31" y2="373.6" stroke="#231f20" stroke-width="0.9" />
<line x1="453.5" y1="371" x2="453.5" y2="374.9" stroke="#231f20" stroke-width="1.2" />
<line x1="478.69" y1="371" x2="478.69" y2="373.6" stroke="#231f20" stroke-width="0.9" />
<line x1="503.88" y1="371" x2="503.88" y2="373.6" stroke="#231f20" stroke-width="0.9" />
<line x1="529.06" y1="371" x2="529.06" y2="373.6" stroke="#231f20" stroke-width="0.9" />
<line x1="554.25" y1="371" x2="554.25" y2="374.9" stroke="#231f20" stroke-width="1.2" />
<line x1="579.44" y1="371" x2="579.44" y2="373.6" stroke="#231f20" stroke-width="0.9" />
<line x1="604.62" y1="371" x2="604.62" y2="373.6" stroke="#231f20" stroke-width="0.9" />
<line x1="629.81" y1="371" x2="629.81" y2="373.6" stroke="#231f20" stroke-width="0.9" />
<line x1="655.0" y1="371" x2="655.0" y2="374.9" stroke="#231f20" stroke-width="1.2" />
<text x="151.5" y="388.2" text-anchor="middle" >1,200</text>
<text x="252.2" y="388.2" text-anchor="middle" >1,400</text>
<text x="353.0" y="388.2" text-anchor="middle" >1,600</text>
<text x="453.8" y="388.2" text-anchor="middle" >1,800</text>
<text x="554.5" y="388.2" text-anchor="middle" >2,000</text>
<text x="655.2" y="388.2" text-anchor="middle" >2,200</text>
<text x="353" y="405.8" text-anchor="middle" >m/z</text>
<text x="140.6" y="296" text-anchor="start" >+5</text>
<text x="274.4" y="295.8" text-anchor="start" >+4</text>
<text x="492.6" y="334.5" text-anchor="start" >+3</text>
</svg>
</body></html>
